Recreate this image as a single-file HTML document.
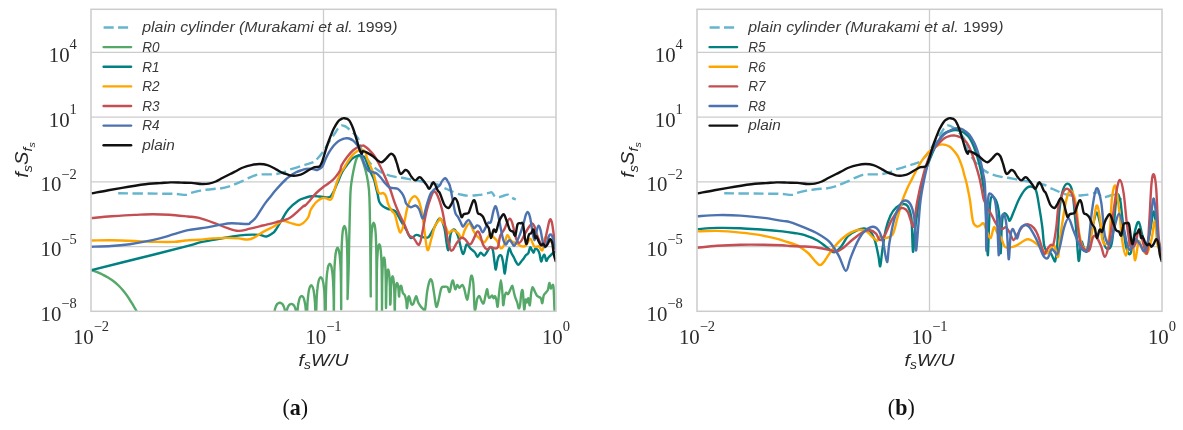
<!DOCTYPE html>
<html><head><meta charset="utf-8"><style>
html,body{margin:0;padding:0;background:#fff;}
svg{display:block;will-change:transform;}
.lg{font-family:"Liberation Sans",sans-serif;font-style:italic;font-size:14.4px;fill:#3a3a3a;}
.tk{font-family:"Liberation Serif",serif;font-size:20.8px;fill:#2c2c2c;}
.tk .sup{font-size:14.5px;}
.al{font-family:"Liberation Sans",sans-serif;font-style:italic;font-size:16.8px;fill:#262626;}
.al .sub{font-size:12px;}
.al .sub2{font-size:9px;}
.cap{font-family:"Liberation Serif",serif;font-size:22px;fill:#111;}
</style></head><body>
<svg width="1183" height="430" viewBox="0 0 1183 430">
<rect width="1183" height="430" fill="#fff"/>
<defs><clipPath id="da0"><rect x="117.99" y="0" width="186.20" height="430"/></clipPath><clipPath id="da1"><rect x="304.19" y="0" width="82.20" height="430"/></clipPath><clipPath id="da2"><rect x="386.39" y="0" width="57.70" height="430"/></clipPath><clipPath id="da3"><rect x="444.09" y="0" width="42.50" height="430"/></clipPath><clipPath id="da4"><rect x="486.59" y="0" width="113.40" height="430"/></clipPath><clipPath id="db0"><rect x="723.99" y="0" width="186.20" height="430"/></clipPath><clipPath id="db1"><rect x="910.19" y="0" width="82.20" height="430"/></clipPath><clipPath id="db2"><rect x="992.39" y="0" width="57.70" height="430"/></clipPath><clipPath id="db3"><rect x="1050.09" y="0" width="42.50" height="430"/></clipPath><clipPath id="db4"><rect x="1092.59" y="0" width="113.40" height="430"/></clipPath><clipPath id="c0"><rect x="91.0" y="9.3" width="465.0" height="302.0"/></clipPath><clipPath id="c1"><rect x="697.0" y="9.3" width="465.0" height="302.0"/></clipPath></defs>
<g stroke="#cccccc" stroke-width="1.3"><line x1="91.0" y1="52.4" x2="556.0" y2="52.4"/><line x1="91.0" y1="117.2" x2="556.0" y2="117.2"/><line x1="91.0" y1="181.9" x2="556.0" y2="181.9"/><line x1="91.0" y1="246.6" x2="556.0" y2="246.6"/><line x1="323.5" y1="9.3" x2="323.5" y2="311.3"/></g>
<g stroke="#cccccc" stroke-width="1.3"><line x1="697.0" y1="52.4" x2="1162.0" y2="52.4"/><line x1="697.0" y1="117.2" x2="1162.0" y2="117.2"/><line x1="697.0" y1="181.9" x2="1162.0" y2="181.9"/><line x1="697.0" y1="246.6" x2="1162.0" y2="246.6"/><line x1="929.5" y1="9.3" x2="929.5" y2="311.3"/></g>
<g clip-path="url(#c0)"><path d="M118.2,193.3 C125.5,193.4 153.2,193.6 162.1,193.7 C171.0,193.8 169.5,193.6 171.9,193.7 C174.3,193.8 174.2,193.8 176.7,194.0 C179.2,194.2 184.4,195.1 186.8,194.9 C189.2,194.7 188.7,193.7 191.0,193.0 C193.3,192.3 198.0,191.1 200.4,190.6 C202.8,190.1 202.9,190.2 205.3,189.9 C207.8,189.6 212.7,189.0 215.1,188.8 C217.5,188.6 217.6,188.9 220.0,188.5 C222.4,188.1 226.9,187.1 229.4,186.4 C231.9,185.7 232.8,185.1 235.0,184.2 C237.2,183.3 240.6,181.8 242.7,180.9 C244.8,180.0 245.3,179.5 247.6,178.5 C249.9,177.5 254.3,175.5 256.6,174.8 C258.9,174.1 259.0,174.5 261.4,174.4 C263.8,174.3 268.4,174.5 270.8,174.4 C273.2,174.3 273.9,174.3 276.1,174.0 C278.3,173.7 281.5,173.2 283.8,172.4 C286.1,171.7 287.3,170.4 289.9,169.5 C292.5,168.6 296.9,167.4 299.3,166.7 C301.7,166.0 301.8,165.8 304.2,165.1 C306.6,164.3 311.3,163.2 313.5,162.2 C315.7,161.1 315.7,160.5 317.3,158.8 C318.9,157.1 321.5,153.9 323.0,151.9 C324.5,149.9 325.0,148.8 326.2,146.8 C327.4,144.8 329.0,142.0 330.4,139.8 C331.8,137.6 333.3,135.6 334.6,133.7 C335.9,131.8 336.9,129.9 338.0,128.5 C339.1,127.1 340.3,125.9 341.4,125.5 C342.5,125.1 343.4,125.6 344.5,126.0 C345.6,126.4 346.5,127.1 347.7,128.0 C348.9,128.9 350.4,130.2 351.8,131.5 C353.2,132.8 354.8,134.3 356.0,135.7 C357.2,137.1 357.9,137.6 358.8,140.0 C359.7,142.4 360.5,147.2 361.6,150.0 C362.7,152.8 363.8,154.2 365.3,156.5 C366.9,158.8 368.7,161.7 370.9,164.0 C373.1,166.3 375.8,168.7 378.4,170.5 C381.0,172.3 383.3,173.5 386.4,174.6 C389.5,175.7 394.4,176.7 396.9,177.2 C399.4,177.7 399.1,177.3 401.6,177.7 C404.1,178.1 408.6,179.2 412.0,179.8 C415.4,180.4 418.6,180.9 422.0,181.5 C425.4,182.1 429.6,182.9 432.4,183.5 C435.2,184.1 436.8,184.3 438.7,185.0 C440.6,185.7 442.5,187.1 444.1,187.9 C445.7,188.7 447.1,189.2 448.5,189.8 C449.9,190.4 450.8,190.9 452.3,191.5 C453.8,192.1 455.9,193.0 457.5,193.6 C459.1,194.2 460.4,194.5 462.0,194.8 C463.6,195.1 465.3,195.5 467.2,195.6 C469.1,195.7 471.7,195.6 473.5,195.5 C475.3,195.4 476.4,195.2 477.8,195.1 C479.2,194.9 480.2,194.9 481.7,194.6 C483.2,194.3 485.2,193.8 486.6,193.5 C488.0,193.2 489.1,192.8 490.0,192.6 C490.9,192.4 491.3,191.9 492.1,192.6 C492.9,193.2 493.9,195.7 494.9,196.5 C495.9,197.3 496.8,197.5 498.1,197.4 C499.5,197.3 501.4,196.5 503.0,196.0 C504.6,195.5 506.4,194.4 507.8,194.6 C509.2,194.8 510.0,196.6 511.3,197.4 C512.6,198.2 515.0,199.2 515.8,199.5" fill="none" stroke="#64b5cd" stroke-width="2.40" stroke-dasharray="10.084,4.639" stroke-dashoffset="0.200" clip-path="url(#da0)"/><path d="M118.2,193.3 C125.5,193.4 153.2,193.6 162.1,193.7 C171.0,193.8 169.5,193.6 171.9,193.7 C174.3,193.8 174.2,193.8 176.7,194.0 C179.2,194.2 184.4,195.1 186.8,194.9 C189.2,194.7 188.7,193.7 191.0,193.0 C193.3,192.3 198.0,191.1 200.4,190.6 C202.8,190.1 202.9,190.2 205.3,189.9 C207.8,189.6 212.7,189.0 215.1,188.8 C217.5,188.6 217.6,188.9 220.0,188.5 C222.4,188.1 226.9,187.1 229.4,186.4 C231.9,185.7 232.8,185.1 235.0,184.2 C237.2,183.3 240.6,181.8 242.7,180.9 C244.8,180.0 245.3,179.5 247.6,178.5 C249.9,177.5 254.3,175.5 256.6,174.8 C258.9,174.1 259.0,174.5 261.4,174.4 C263.8,174.3 268.4,174.5 270.8,174.4 C273.2,174.3 273.9,174.3 276.1,174.0 C278.3,173.7 281.5,173.2 283.8,172.4 C286.1,171.7 287.3,170.4 289.9,169.5 C292.5,168.6 296.9,167.4 299.3,166.7 C301.7,166.0 301.8,165.8 304.2,165.1 C306.6,164.3 311.3,163.2 313.5,162.2 C315.7,161.1 315.7,160.5 317.3,158.8 C318.9,157.1 321.5,153.9 323.0,151.9 C324.5,149.9 325.0,148.8 326.2,146.8 C327.4,144.8 329.0,142.0 330.4,139.8 C331.8,137.6 333.3,135.6 334.6,133.7 C335.9,131.8 336.9,129.9 338.0,128.5 C339.1,127.1 340.3,125.9 341.4,125.5 C342.5,125.1 343.4,125.6 344.5,126.0 C345.6,126.4 346.5,127.1 347.7,128.0 C348.9,128.9 350.4,130.2 351.8,131.5 C353.2,132.8 354.8,134.3 356.0,135.7 C357.2,137.1 357.9,137.6 358.8,140.0 C359.7,142.4 360.5,147.2 361.6,150.0 C362.7,152.8 363.8,154.2 365.3,156.5 C366.9,158.8 368.7,161.7 370.9,164.0 C373.1,166.3 375.8,168.7 378.4,170.5 C381.0,172.3 383.3,173.5 386.4,174.6 C389.5,175.7 394.4,176.7 396.9,177.2 C399.4,177.7 399.1,177.3 401.6,177.7 C404.1,178.1 408.6,179.2 412.0,179.8 C415.4,180.4 418.6,180.9 422.0,181.5 C425.4,182.1 429.6,182.9 432.4,183.5 C435.2,184.1 436.8,184.3 438.7,185.0 C440.6,185.7 442.5,187.1 444.1,187.9 C445.7,188.7 447.1,189.2 448.5,189.8 C449.9,190.4 450.8,190.9 452.3,191.5 C453.8,192.1 455.9,193.0 457.5,193.6 C459.1,194.2 460.4,194.5 462.0,194.8 C463.6,195.1 465.3,195.5 467.2,195.6 C469.1,195.7 471.7,195.6 473.5,195.5 C475.3,195.4 476.4,195.2 477.8,195.1 C479.2,194.9 480.2,194.9 481.7,194.6 C483.2,194.3 485.2,193.8 486.6,193.5 C488.0,193.2 489.1,192.8 490.0,192.6 C490.9,192.4 491.3,191.9 492.1,192.6 C492.9,193.2 493.9,195.7 494.9,196.5 C495.9,197.3 496.8,197.5 498.1,197.4 C499.5,197.3 501.4,196.5 503.0,196.0 C504.6,195.5 506.4,194.4 507.8,194.6 C509.2,194.8 510.0,196.6 511.3,197.4 C512.6,198.2 515.0,199.2 515.8,199.5" fill="none" stroke="#64b5cd" stroke-width="2.40" stroke-dasharray="9.588,4.411" stroke-dashoffset="4.798" clip-path="url(#da1)"/><path d="M118.2,193.3 C125.5,193.4 153.2,193.6 162.1,193.7 C171.0,193.8 169.5,193.6 171.9,193.7 C174.3,193.8 174.2,193.8 176.7,194.0 C179.2,194.2 184.4,195.1 186.8,194.9 C189.2,194.7 188.7,193.7 191.0,193.0 C193.3,192.3 198.0,191.1 200.4,190.6 C202.8,190.1 202.9,190.2 205.3,189.9 C207.8,189.6 212.7,189.0 215.1,188.8 C217.5,188.6 217.6,188.9 220.0,188.5 C222.4,188.1 226.9,187.1 229.4,186.4 C231.9,185.7 232.8,185.1 235.0,184.2 C237.2,183.3 240.6,181.8 242.7,180.9 C244.8,180.0 245.3,179.5 247.6,178.5 C249.9,177.5 254.3,175.5 256.6,174.8 C258.9,174.1 259.0,174.5 261.4,174.4 C263.8,174.3 268.4,174.5 270.8,174.4 C273.2,174.3 273.9,174.3 276.1,174.0 C278.3,173.7 281.5,173.2 283.8,172.4 C286.1,171.7 287.3,170.4 289.9,169.5 C292.5,168.6 296.9,167.4 299.3,166.7 C301.7,166.0 301.8,165.8 304.2,165.1 C306.6,164.3 311.3,163.2 313.5,162.2 C315.7,161.1 315.7,160.5 317.3,158.8 C318.9,157.1 321.5,153.9 323.0,151.9 C324.5,149.9 325.0,148.8 326.2,146.8 C327.4,144.8 329.0,142.0 330.4,139.8 C331.8,137.6 333.3,135.6 334.6,133.7 C335.9,131.8 336.9,129.9 338.0,128.5 C339.1,127.1 340.3,125.9 341.4,125.5 C342.5,125.1 343.4,125.6 344.5,126.0 C345.6,126.4 346.5,127.1 347.7,128.0 C348.9,128.9 350.4,130.2 351.8,131.5 C353.2,132.8 354.8,134.3 356.0,135.7 C357.2,137.1 357.9,137.6 358.8,140.0 C359.7,142.4 360.5,147.2 361.6,150.0 C362.7,152.8 363.8,154.2 365.3,156.5 C366.9,158.8 368.7,161.7 370.9,164.0 C373.1,166.3 375.8,168.7 378.4,170.5 C381.0,172.3 383.3,173.5 386.4,174.6 C389.5,175.7 394.4,176.7 396.9,177.2 C399.4,177.7 399.1,177.3 401.6,177.7 C404.1,178.1 408.6,179.2 412.0,179.8 C415.4,180.4 418.6,180.9 422.0,181.5 C425.4,182.1 429.6,182.9 432.4,183.5 C435.2,184.1 436.8,184.3 438.7,185.0 C440.6,185.7 442.5,187.1 444.1,187.9 C445.7,188.7 447.1,189.2 448.5,189.8 C449.9,190.4 450.8,190.9 452.3,191.5 C453.8,192.1 455.9,193.0 457.5,193.6 C459.1,194.2 460.4,194.5 462.0,194.8 C463.6,195.1 465.3,195.5 467.2,195.6 C469.1,195.7 471.7,195.6 473.5,195.5 C475.3,195.4 476.4,195.2 477.8,195.1 C479.2,194.9 480.2,194.9 481.7,194.6 C483.2,194.3 485.2,193.8 486.6,193.5 C488.0,193.2 489.1,192.8 490.0,192.6 C490.9,192.4 491.3,191.9 492.1,192.6 C492.9,193.2 493.9,195.7 494.9,196.5 C495.9,197.3 496.8,197.5 498.1,197.4 C499.5,197.3 501.4,196.5 503.0,196.0 C504.6,195.5 506.4,194.4 507.8,194.6 C509.2,194.8 510.0,196.6 511.3,197.4 C512.6,198.2 515.0,199.2 515.8,199.5" fill="none" stroke="#64b5cd" stroke-width="2.40" stroke-dasharray="10.192,4.688" stroke-dashoffset="10.197" clip-path="url(#da2)"/><path d="M118.2,193.3 C125.5,193.4 153.2,193.6 162.1,193.7 C171.0,193.8 169.5,193.6 171.9,193.7 C174.3,193.8 174.2,193.8 176.7,194.0 C179.2,194.2 184.4,195.1 186.8,194.9 C189.2,194.7 188.7,193.7 191.0,193.0 C193.3,192.3 198.0,191.1 200.4,190.6 C202.8,190.1 202.9,190.2 205.3,189.9 C207.8,189.6 212.7,189.0 215.1,188.8 C217.5,188.6 217.6,188.9 220.0,188.5 C222.4,188.1 226.9,187.1 229.4,186.4 C231.9,185.7 232.8,185.1 235.0,184.2 C237.2,183.3 240.6,181.8 242.7,180.9 C244.8,180.0 245.3,179.5 247.6,178.5 C249.9,177.5 254.3,175.5 256.6,174.8 C258.9,174.1 259.0,174.5 261.4,174.4 C263.8,174.3 268.4,174.5 270.8,174.4 C273.2,174.3 273.9,174.3 276.1,174.0 C278.3,173.7 281.5,173.2 283.8,172.4 C286.1,171.7 287.3,170.4 289.9,169.5 C292.5,168.6 296.9,167.4 299.3,166.7 C301.7,166.0 301.8,165.8 304.2,165.1 C306.6,164.3 311.3,163.2 313.5,162.2 C315.7,161.1 315.7,160.5 317.3,158.8 C318.9,157.1 321.5,153.9 323.0,151.9 C324.5,149.9 325.0,148.8 326.2,146.8 C327.4,144.8 329.0,142.0 330.4,139.8 C331.8,137.6 333.3,135.6 334.6,133.7 C335.9,131.8 336.9,129.9 338.0,128.5 C339.1,127.1 340.3,125.9 341.4,125.5 C342.5,125.1 343.4,125.6 344.5,126.0 C345.6,126.4 346.5,127.1 347.7,128.0 C348.9,128.9 350.4,130.2 351.8,131.5 C353.2,132.8 354.8,134.3 356.0,135.7 C357.2,137.1 357.9,137.6 358.8,140.0 C359.7,142.4 360.5,147.2 361.6,150.0 C362.7,152.8 363.8,154.2 365.3,156.5 C366.9,158.8 368.7,161.7 370.9,164.0 C373.1,166.3 375.8,168.7 378.4,170.5 C381.0,172.3 383.3,173.5 386.4,174.6 C389.5,175.7 394.4,176.7 396.9,177.2 C399.4,177.7 399.1,177.3 401.6,177.7 C404.1,178.1 408.6,179.2 412.0,179.8 C415.4,180.4 418.6,180.9 422.0,181.5 C425.4,182.1 429.6,182.9 432.4,183.5 C435.2,184.1 436.8,184.3 438.7,185.0 C440.6,185.7 442.5,187.1 444.1,187.9 C445.7,188.7 447.1,189.2 448.5,189.8 C449.9,190.4 450.8,190.9 452.3,191.5 C453.8,192.1 455.9,193.0 457.5,193.6 C459.1,194.2 460.4,194.5 462.0,194.8 C463.6,195.1 465.3,195.5 467.2,195.6 C469.1,195.7 471.7,195.6 473.5,195.5 C475.3,195.4 476.4,195.2 477.8,195.1 C479.2,194.9 480.2,194.9 481.7,194.6 C483.2,194.3 485.2,193.8 486.6,193.5 C488.0,193.2 489.1,192.8 490.0,192.6 C490.9,192.4 491.3,191.9 492.1,192.6 C492.9,193.2 493.9,195.7 494.9,196.5 C495.9,197.3 496.8,197.5 498.1,197.4 C499.5,197.3 501.4,196.5 503.0,196.0 C504.6,195.5 506.4,194.4 507.8,194.6 C509.2,194.8 510.0,196.6 511.3,197.4 C512.6,198.2 515.0,199.2 515.8,199.5" fill="none" stroke="#64b5cd" stroke-width="2.40" stroke-dasharray="10.063,4.629" stroke-dashoffset="5.270" clip-path="url(#da3)"/><path d="M118.2,193.3 C125.5,193.4 153.2,193.6 162.1,193.7 C171.0,193.8 169.5,193.6 171.9,193.7 C174.3,193.8 174.2,193.8 176.7,194.0 C179.2,194.2 184.4,195.1 186.8,194.9 C189.2,194.7 188.7,193.7 191.0,193.0 C193.3,192.3 198.0,191.1 200.4,190.6 C202.8,190.1 202.9,190.2 205.3,189.9 C207.8,189.6 212.7,189.0 215.1,188.8 C217.5,188.6 217.6,188.9 220.0,188.5 C222.4,188.1 226.9,187.1 229.4,186.4 C231.9,185.7 232.8,185.1 235.0,184.2 C237.2,183.3 240.6,181.8 242.7,180.9 C244.8,180.0 245.3,179.5 247.6,178.5 C249.9,177.5 254.3,175.5 256.6,174.8 C258.9,174.1 259.0,174.5 261.4,174.4 C263.8,174.3 268.4,174.5 270.8,174.4 C273.2,174.3 273.9,174.3 276.1,174.0 C278.3,173.7 281.5,173.2 283.8,172.4 C286.1,171.7 287.3,170.4 289.9,169.5 C292.5,168.6 296.9,167.4 299.3,166.7 C301.7,166.0 301.8,165.8 304.2,165.1 C306.6,164.3 311.3,163.2 313.5,162.2 C315.7,161.1 315.7,160.5 317.3,158.8 C318.9,157.1 321.5,153.9 323.0,151.9 C324.5,149.9 325.0,148.8 326.2,146.8 C327.4,144.8 329.0,142.0 330.4,139.8 C331.8,137.6 333.3,135.6 334.6,133.7 C335.9,131.8 336.9,129.9 338.0,128.5 C339.1,127.1 340.3,125.9 341.4,125.5 C342.5,125.1 343.4,125.6 344.5,126.0 C345.6,126.4 346.5,127.1 347.7,128.0 C348.9,128.9 350.4,130.2 351.8,131.5 C353.2,132.8 354.8,134.3 356.0,135.7 C357.2,137.1 357.9,137.6 358.8,140.0 C359.7,142.4 360.5,147.2 361.6,150.0 C362.7,152.8 363.8,154.2 365.3,156.5 C366.9,158.8 368.7,161.7 370.9,164.0 C373.1,166.3 375.8,168.7 378.4,170.5 C381.0,172.3 383.3,173.5 386.4,174.6 C389.5,175.7 394.4,176.7 396.9,177.2 C399.4,177.7 399.1,177.3 401.6,177.7 C404.1,178.1 408.6,179.2 412.0,179.8 C415.4,180.4 418.6,180.9 422.0,181.5 C425.4,182.1 429.6,182.9 432.4,183.5 C435.2,184.1 436.8,184.3 438.7,185.0 C440.6,185.7 442.5,187.1 444.1,187.9 C445.7,188.7 447.1,189.2 448.5,189.8 C449.9,190.4 450.8,190.9 452.3,191.5 C453.8,192.1 455.9,193.0 457.5,193.6 C459.1,194.2 460.4,194.5 462.0,194.8 C463.6,195.1 465.3,195.5 467.2,195.6 C469.1,195.7 471.7,195.6 473.5,195.5 C475.3,195.4 476.4,195.2 477.8,195.1 C479.2,194.9 480.2,194.9 481.7,194.6 C483.2,194.3 485.2,193.8 486.6,193.5 C488.0,193.2 489.1,192.8 490.0,192.6 C490.9,192.4 491.3,191.9 492.1,192.6 C492.9,193.2 493.9,195.7 494.9,196.5 C495.9,197.3 496.8,197.5 498.1,197.4 C499.5,197.3 501.4,196.5 503.0,196.0 C504.6,195.5 506.4,194.4 507.8,194.6 C509.2,194.8 510.0,196.6 511.3,197.4 C512.6,198.2 515.0,199.2 515.8,199.5" fill="none" stroke="#64b5cd" stroke-width="2.40" stroke-dasharray="10.000,4.600" stroke-dashoffset="2.623" clip-path="url(#da4)"/><path d="M91.5,270.1 C92.3,270.4 94.8,271.1 96.5,271.8 C98.2,272.5 100.1,273.3 102.0,274.3 C103.9,275.3 106.1,276.4 108.0,277.6 C109.9,278.8 111.8,280.0 113.6,281.3 C115.3,282.6 117.0,284.0 118.5,285.5 C120.0,287.0 121.6,288.7 122.9,290.3 C124.2,291.9 125.4,293.4 126.6,295.0 C127.8,296.6 128.8,298.2 129.9,300.0 C131.1,301.8 132.3,303.9 133.5,305.8 C134.7,307.7 135.6,309.4 136.8,311.5 C138.0,313.6 139.5,316.4 140.5,318.5 C141.5,320.6 142.6,323.1 143.0,324.0" fill="none" stroke="#55a868" stroke-width="2.40" stroke-linejoin="round"/><path d="M268.0,330.0 C268.9,330.0 272.7,330.3 273.7,330.0 C274.7,329.7 273.7,329.3 273.7,327.9 C273.8,326.5 273.8,323.5 273.8,321.6 C273.9,319.7 274.0,317.9 274.1,316.3 C274.2,314.8 274.3,313.5 274.4,312.4 C274.6,311.2 274.7,310.4 274.9,309.5 C275.1,308.6 275.4,307.7 275.7,306.9 C275.9,306.1 276.3,305.5 276.6,304.9 C277.0,304.3 277.3,303.8 277.8,303.5 C278.4,303.1 279.1,302.7 279.8,302.7 C280.5,302.7 281.2,303.1 281.8,303.5 C282.3,303.8 282.6,304.3 283.0,304.9 C283.3,305.5 283.7,306.1 283.9,306.9 C284.2,307.7 284.5,308.6 284.7,309.5 C284.9,310.4 285.0,311.2 285.2,312.4 C285.3,313.5 285.4,314.8 285.5,316.3 C285.6,317.9 285.7,319.7 285.8,321.6 C285.8,323.5 285.8,326.5 285.9,327.9 C285.9,329.3 285.9,330.2 285.9,330.0 C285.9,329.8 285.9,328.2 285.9,326.7 C286.0,325.2 286.0,322.7 286.0,321.0 C286.1,319.2 286.1,317.6 286.2,316.2 C286.3,314.8 286.4,313.7 286.6,312.6 C286.7,311.6 286.8,310.8 287.0,310.0 C287.2,309.2 287.4,308.4 287.6,307.7 C287.9,307.0 288.2,306.4 288.5,305.9 C288.8,305.4 289.1,304.9 289.6,304.6 C290.1,304.3 290.8,303.9 291.4,303.9 C291.9,303.9 292.6,304.3 293.1,304.6 C293.6,304.9 293.9,305.4 294.2,305.9 C294.5,306.4 294.8,307.0 295.1,307.7 C295.3,308.4 295.5,309.2 295.7,310.0 C295.9,310.8 296.0,311.6 296.1,312.6 C296.3,313.7 296.4,314.8 296.5,316.2 C296.6,317.6 296.6,319.2 296.7,321.0 C296.7,322.7 296.7,325.2 296.8,326.7 C296.8,328.2 296.8,329.5 296.8,330.0 C296.8,330.5 296.8,330.0 296.8,330.0 C296.9,330.0 296.9,331.6 296.9,330.0 C297.0,328.4 297.0,323.5 297.1,320.7 C297.2,317.9 297.3,315.6 297.4,313.5 C297.5,311.4 297.6,309.9 297.8,308.2 C297.9,306.6 298.1,305.0 298.4,303.6 C298.6,302.2 298.9,300.9 299.2,299.9 C299.4,298.8 299.7,297.9 300.1,297.3 C300.6,296.6 301.2,295.9 301.7,295.9 C302.2,295.9 302.8,296.6 303.3,297.3 C303.7,297.9 304.0,298.8 304.2,299.9 C304.5,300.9 304.8,302.2 305.0,303.6 C305.3,305.0 305.5,306.6 305.6,308.2 C305.8,309.9 305.9,311.4 306.0,313.5 C306.1,315.6 306.2,317.9 306.3,320.7 C306.4,323.5 306.4,328.4 306.5,330.0 C306.5,331.6 306.5,330.0 306.6,330.0 C306.6,330.0 306.6,330.0 306.6,330.0 C306.6,330.0 306.6,330.0 306.6,330.0 C306.7,330.0 306.7,331.5 306.7,330.0 C306.8,328.5 306.8,324.3 306.9,321.0 C307.0,317.8 307.0,313.6 307.2,310.6 C307.3,307.5 307.4,305.3 307.5,303.0 C307.7,300.6 307.9,298.2 308.1,296.2 C308.3,294.2 308.6,292.4 308.8,290.9 C309.1,289.3 309.4,288.1 309.8,287.1 C310.2,286.1 310.8,285.1 311.2,285.1 C311.7,285.1 312.3,286.1 312.7,287.1 C313.1,288.1 313.4,289.3 313.7,290.9 C313.9,292.4 314.2,294.2 314.4,296.2 C314.6,298.2 314.8,300.6 315.0,303.0 C315.1,305.3 315.2,307.5 315.3,310.6 C315.5,313.6 315.5,317.8 315.6,321.0 C315.7,324.3 315.7,328.5 315.8,330.0 C315.8,331.5 315.8,330.0 315.9,330.0 C315.9,330.0 315.9,330.0 315.9,330.0 C315.9,330.0 315.9,330.5 315.9,330.0 C316.0,329.5 316.0,329.8 316.0,326.9 C316.1,324.1 316.1,317.1 316.2,313.0 C316.3,309.0 316.4,305.6 316.5,302.6 C316.6,299.5 316.7,297.3 316.9,295.0 C317.0,292.6 317.2,290.2 317.5,288.2 C317.7,286.2 317.9,284.4 318.2,282.9 C318.5,281.3 318.8,280.1 319.2,279.1 C319.6,278.1 320.2,277.1 320.8,277.1 C321.3,277.1 321.9,278.1 322.3,279.1 C322.7,280.1 323.0,281.3 323.3,282.9 C323.6,284.4 323.8,286.2 324.0,288.2 C324.3,290.2 324.5,292.6 324.6,295.0 C324.8,297.3 324.9,299.5 325.0,302.6 C325.1,305.6 325.2,309.0 325.3,313.0 C325.4,317.1 325.4,324.1 325.5,326.9 C325.5,329.8 325.5,329.5 325.6,330.0 C325.6,330.5 325.6,330.0 325.6,330.0 C325.6,330.0 325.6,332.7 325.6,330.0 C325.6,327.3 325.7,318.6 325.7,313.5 C325.7,308.5 325.8,303.7 325.8,299.6 C325.9,295.6 326.0,292.2 326.1,289.2 C326.2,286.1 326.3,283.9 326.4,281.6 C326.6,279.2 326.7,276.8 326.9,274.8 C327.1,272.8 327.3,271.0 327.6,269.5 C327.8,267.9 328.1,266.7 328.4,265.7 C328.8,264.7 329.3,263.7 329.8,263.7 C330.2,263.7 330.7,264.7 331.1,265.7 C331.4,266.7 331.7,267.9 331.9,269.5 C332.2,271.0 332.4,272.8 332.6,274.8 C332.8,276.8 332.9,279.2 333.1,281.6 C333.2,283.9 333.3,286.1 333.4,289.2 C333.5,292.2 333.6,295.6 333.7,299.6 C333.7,303.7 333.8,308.5 333.8,313.5 C333.8,318.6 333.9,327.3 333.9,330.0 C333.9,332.7 333.9,332.6 333.9,330.0 C333.9,327.4 333.9,319.7 333.9,314.3 C333.9,308.9 334.0,302.7 334.0,297.6 C334.0,292.5 334.1,287.8 334.1,283.7 C334.2,279.7 334.3,276.3 334.3,273.3 C334.4,270.2 334.5,268.0 334.6,265.7 C334.8,263.3 334.9,260.9 335.1,258.9 C335.2,256.9 335.4,255.1 335.7,253.6 C335.9,252.0 336.1,250.8 336.4,249.8 C336.7,248.8 337.2,247.8 337.5,247.8 C337.9,247.8 338.4,248.8 338.7,249.8 C339.0,250.8 339.2,252.0 339.4,253.6 C339.7,255.1 339.9,256.9 340.0,258.9 C340.2,260.9 340.3,263.3 340.5,265.7 C340.6,268.0 340.7,270.2 340.8,273.3 C340.8,276.3 340.9,279.7 341.0,283.7 C341.0,287.8 341.1,293.7 341.1,297.6 C341.1,301.6 341.2,305.9 341.2,307.6 C341.2,309.3 341.2,310.1 341.2,307.6 C341.2,305.1 341.2,297.7 341.2,292.4 C341.2,287.1 341.2,280.8 341.3,275.7 C341.3,270.6 341.3,265.9 341.4,261.8 C341.4,257.8 341.5,254.4 341.6,251.4 C341.7,248.3 341.7,246.1 341.8,243.8 C341.9,241.4 342.1,239.0 342.2,237.0 C342.4,235.0 342.5,233.2 342.7,231.7 C342.9,230.1 343.1,228.9 343.4,227.9 C343.7,226.9 344.1,225.9 344.4,225.9 C344.7,225.9 345.1,226.9 345.4,227.9 C345.7,228.9 345.9,230.1 346.1,231.7 C346.3,233.2 346.4,235.0 346.6,237.0 C346.7,239.0 346.9,241.4 347.0,243.8 C347.1,246.1 347.1,248.3 347.2,251.4 C347.3,254.4 347.4,257.8 347.4,261.8 C347.5,265.9 347.5,270.6 347.5,275.7 C347.6,280.8 347.6,288.8 347.6,292.4 C347.6,296.1 347.4,301.5 347.6,297.8 C347.8,294.1 348.3,279.6 348.6,270.0 C348.9,260.4 349.0,249.2 349.2,240.0 C349.4,230.8 349.6,223.0 349.8,215.0 C350.0,207.0 350.2,197.5 350.5,192.0 C350.8,186.5 351.0,185.4 351.5,182.0 C352.0,178.6 352.6,175.0 353.3,171.4 C354.1,167.8 355.1,162.8 356.0,160.2 C356.9,157.6 357.9,155.9 358.8,155.6 C359.7,155.3 360.5,156.1 361.6,158.4 C362.7,160.7 364.2,165.5 365.3,169.5 C366.4,173.5 367.4,178.0 368.1,182.6 C368.8,187.2 369.1,189.1 369.4,197.0 C369.7,204.9 369.9,214.2 370.1,230.0 C370.3,245.8 370.6,282.1 370.7,292.0 C370.8,301.9 370.7,292.5 370.7,289.2 C370.7,286.0 370.7,277.6 370.8,272.5 C370.8,267.4 370.8,262.7 370.9,258.6 C370.9,254.6 371.0,251.2 371.1,248.2 C371.1,245.1 371.2,242.9 371.3,240.6 C371.4,238.2 371.5,235.8 371.6,233.8 C371.8,231.8 371.9,230.0 372.1,228.5 C372.3,226.9 372.5,225.7 372.7,224.7 C373.0,223.7 373.3,222.7 373.6,222.7 C374.0,222.7 374.3,223.7 374.6,224.7 C374.8,225.7 375.0,226.9 375.2,228.5 C375.4,230.0 375.5,231.8 375.7,233.8 C375.8,235.8 375.9,238.2 376.0,240.6 C376.1,242.9 376.2,245.1 376.2,248.2 C376.3,251.2 376.4,254.6 376.4,258.6 C376.5,262.7 376.5,267.4 376.5,272.5 C376.6,277.6 376.6,279.7 376.6,289.2 C376.6,298.8 376.6,326.4 376.6,330.0 C376.6,333.6 376.6,316.6 376.6,310.6 C376.6,304.6 376.6,299.0 376.7,293.9 C376.7,288.8 376.7,284.1 376.8,280.0 C376.8,276.0 376.9,272.6 376.9,269.6 C377.0,266.5 377.1,264.3 377.1,262.0 C377.2,259.6 377.3,257.2 377.5,255.2 C377.6,253.2 377.7,251.4 377.9,249.9 C378.1,248.3 378.2,247.1 378.4,246.1 C378.7,245.1 379.0,244.1 379.3,244.1 C379.6,244.1 379.9,245.1 380.2,246.1 C380.4,247.1 380.5,248.3 380.7,249.9 C380.9,251.4 381.0,253.2 381.1,255.2 C381.3,257.2 381.4,259.6 381.5,262.0 C381.5,264.3 381.6,266.5 381.7,269.6 C381.7,272.6 381.8,276.0 381.8,280.0 C381.9,284.1 381.9,288.8 381.9,293.9 C382.0,299.0 382.0,304.6 382.0,310.6 C382.0,316.6 382.0,327.8 382.0,330.0 C382.0,332.2 382.0,327.8 382.0,324.0 C382.0,320.3 382.0,312.4 382.0,307.3 C382.1,302.2 382.1,297.5 382.1,293.4 C382.2,289.4 382.2,286.0 382.2,283.0 C382.3,279.9 382.3,277.7 382.4,275.4 C382.5,273.0 382.5,270.6 382.6,268.6 C382.7,266.6 382.8,264.8 383.0,263.3 C383.1,261.7 383.2,260.5 383.4,259.5 C383.5,258.5 383.8,257.5 384.0,257.5 C384.2,257.5 384.5,258.5 384.6,259.5 C384.8,260.5 384.9,261.7 385.0,263.3 C385.2,264.8 385.3,266.6 385.4,268.6 C385.5,270.6 385.5,273.0 385.6,275.4 C385.7,277.7 385.7,279.9 385.8,283.0 C385.8,286.0 385.8,289.4 385.9,293.4 C385.9,297.4 385.9,304.7 386.0,307.0 C386.0,309.3 386.0,307.0 386.0,307.0 C386.0,307.0 386.0,307.0 386.0,307.0 C386.0,307.0 386.0,307.0 386.0,307.0 C386.0,307.0 386.0,307.3 386.1,307.0 C386.1,306.7 386.1,307.4 386.1,305.4 C386.2,303.4 386.2,298.0 386.3,295.0 C386.3,291.9 386.4,289.7 386.4,287.4 C386.5,285.0 386.6,282.6 386.7,280.6 C386.8,278.6 386.9,276.8 387.0,275.3 C387.2,273.7 387.3,272.5 387.5,271.5 C387.6,270.5 387.9,269.5 388.1,269.5 C388.4,269.5 388.7,270.5 388.8,271.5 C389.0,272.5 389.1,273.7 389.3,275.3 C389.4,276.8 389.5,278.6 389.6,280.6 C389.7,282.6 389.8,285.0 389.9,287.4 C389.9,289.7 390.0,292.2 390.0,295.0 C390.1,297.7 390.1,302.5 390.2,304.0 C390.2,305.5 390.2,304.0 390.2,304.0 C390.3,304.0 390.3,304.0 390.3,304.0 C390.3,304.0 390.3,304.0 390.3,304.0 C390.3,304.0 390.3,304.0 390.3,304.0 C390.3,304.0 390.3,304.0 390.4,304.0 C390.4,304.0 390.4,304.4 390.4,304.0 C390.5,303.6 390.5,303.3 390.6,301.7 C390.6,300.0 390.7,296.4 390.8,294.1 C390.8,291.7 390.9,289.3 391.0,287.3 C391.1,285.3 391.2,283.5 391.4,282.0 C391.5,280.4 391.6,279.2 391.8,278.2 C392.0,277.2 392.3,276.2 392.6,276.2 C392.8,276.2 393.1,277.2 393.3,278.2 C393.5,279.2 393.6,280.4 393.7,282.0 C393.9,283.5 394.0,285.3 394.1,287.3 C394.2,289.3 394.3,291.7 394.4,294.1 C394.4,296.4 394.5,299.0 394.5,301.7 C394.6,304.3 394.6,308.6 394.7,310.0 C394.7,311.4 394.7,310.0 394.7,310.0 C394.8,310.0 394.8,310.0 394.8,310.0 C394.8,310.0 394.8,310.0 394.8,310.0 C394.8,310.0 394.8,310.0 394.8,310.0 C394.8,310.0 394.8,310.9 394.9,310.0 C394.9,309.1 394.9,306.4 394.9,304.4 C395.0,302.4 395.0,299.9 395.1,298.1 C395.1,296.3 395.2,295.0 395.2,293.6 C395.3,292.2 395.4,290.8 395.5,289.5 C395.6,288.3 395.7,287.3 395.9,286.3 C396.0,285.4 396.1,284.7 396.3,284.1 C396.5,283.5 396.8,282.9 397.0,282.9 C397.2,282.9 397.5,283.5 397.7,284.1 C397.9,284.7 398.0,285.4 398.1,286.3 C398.3,287.3 398.4,288.3 398.5,289.5 C398.6,290.8 398.7,292.5 398.8,293.6 C398.8,294.7 398.9,295.6 398.9,296.0 C399.0,296.4 399.0,296.0 399.1,296.0 C399.1,296.0 399.1,296.0 399.1,296.0 C399.2,296.0 399.2,296.0 399.2,296.0 C399.2,296.0 399.1,297.5 399.2,296.0 C399.3,294.5 399.6,288.7 400.0,287.1 C400.4,285.5 400.9,285.5 401.4,286.4 C401.9,287.3 402.2,291.2 402.8,292.7 C403.4,294.2 404.3,294.1 404.9,295.5 C405.5,296.9 405.9,299.0 406.3,301.1 C406.7,303.2 406.6,308.8 407.0,308.1 C407.4,307.4 407.9,298.5 408.4,296.9 C408.9,295.3 409.3,297.1 409.8,298.3 C410.3,299.5 410.6,303.0 411.2,303.9 C411.8,304.8 412.5,305.2 413.3,303.9 C414.1,302.6 415.3,296.4 416.1,296.2 C416.9,296.0 417.4,300.8 418.2,302.5 C419.0,304.2 420.1,305.6 420.9,306.7 C421.7,307.8 422.3,308.3 423.0,308.8 C423.7,309.3 424.4,312.4 425.1,309.5 C425.8,306.6 426.4,296.2 427.2,291.3 C428.0,286.4 429.2,281.7 430.0,280.1 C430.8,278.5 431.4,279.2 432.1,281.5 C432.8,283.8 433.5,289.9 434.2,294.1 C434.9,298.3 435.6,305.5 436.3,306.7 C437.0,307.9 437.6,304.1 438.4,301.1 C439.2,298.1 440.3,290.9 441.2,288.5 C442.1,286.1 442.9,287.0 444.0,286.8 C445.1,286.6 446.6,286.2 447.5,287.1 C448.4,288.0 448.9,292.7 449.6,292.0 C450.3,291.3 451.1,284.8 451.7,282.9 C452.3,281.0 452.5,279.8 453.1,280.8 C453.7,281.9 454.5,288.5 455.2,289.2 C455.9,289.9 456.6,285.2 457.3,285.0 C458.0,284.8 458.6,287.8 459.4,287.8 C460.2,287.8 461.4,284.9 462.2,285.0 C463.0,285.1 463.4,286.1 464.2,288.5 C465.0,290.9 466.2,299.5 467.0,299.7 C467.8,299.9 468.4,293.9 469.1,289.9 C469.8,285.9 470.5,277.1 471.2,275.9 C471.9,274.7 472.7,277.3 473.3,282.9 C473.9,288.5 474.1,306.5 474.7,309.5 C475.3,312.5 476.4,303.0 476.8,301.1 C477.2,299.2 476.9,299.1 477.4,298.3 C477.8,297.5 478.8,295.7 479.5,296.2 C480.2,296.7 480.9,299.9 481.6,301.1 C482.3,302.3 483.0,304.4 483.7,303.2 C484.4,302.0 485.2,296.4 485.8,294.1 C486.4,291.8 486.7,288.7 487.2,289.2 C487.7,289.7 488.1,295.5 488.6,296.9 C489.1,298.3 489.4,297.8 490.0,297.6 C490.6,297.4 491.5,295.4 492.1,295.5 C492.7,295.6 493.0,298.2 493.5,298.3 C494.0,298.4 494.4,296.0 494.9,296.2 C495.4,296.4 495.9,297.9 496.3,299.7 C496.8,301.4 497.2,307.6 497.6,306.7 C498.1,305.8 498.4,298.5 499.0,294.1 C499.6,289.7 500.3,280.1 500.9,280.1 C501.5,280.1 502.1,289.9 502.5,294.1 C502.9,298.3 502.8,304.8 503.2,305.3 C503.6,305.8 504.1,299.0 504.6,296.9 C505.1,294.8 505.4,293.2 506.0,292.7 C506.6,292.2 507.4,294.6 508.1,294.1 C508.8,293.6 509.5,291.3 510.2,289.9 C510.9,288.5 511.7,285.5 512.3,285.7 C512.9,285.9 513.2,289.4 513.7,291.3 C514.2,293.2 514.5,295.0 515.1,296.9 C515.7,298.8 516.6,300.6 517.2,302.5 C517.8,304.4 518.1,307.6 518.6,308.1 C519.1,308.6 519.5,307.9 520.0,305.3 C520.5,302.7 520.9,295.0 521.4,292.7 C521.9,290.4 522.3,288.5 522.8,291.3 C523.3,294.1 523.7,308.1 524.2,309.5 C524.7,310.9 525.1,300.9 525.6,299.7 C526.1,298.5 526.5,302.7 527.0,302.5 C527.5,302.3 527.9,297.8 528.4,298.3 C528.9,298.8 529.3,306.2 529.8,305.3 C530.3,304.4 530.7,295.7 531.2,292.7 C531.7,289.7 532.0,287.3 532.6,287.1 C533.2,286.9 534.0,289.9 534.7,291.3 C535.4,292.7 536.1,294.6 536.8,295.5 C537.5,296.4 538.1,296.4 538.8,296.9 C539.5,297.4 540.3,297.2 540.9,298.3 C541.5,299.4 541.8,303.7 542.3,303.2 C542.8,302.7 543.1,297.2 543.7,295.5 C544.3,293.8 545.1,293.6 545.8,292.7 C546.5,291.8 547.3,291.5 547.9,289.9 C548.5,288.3 548.8,283.1 549.3,282.9 C549.8,282.7 550.2,288.0 550.7,288.5 C551.2,289.0 551.6,285.9 552.1,285.7 C552.6,285.5 553.1,283.1 553.5,287.1 C553.9,291.1 554.2,304.4 554.5,309.5 C554.8,314.6 554.9,314.6 555.5,318.0 C556.1,321.4 557.6,328.0 558.0,330.0" fill="none" stroke="#55a868" stroke-width="2.40" stroke-linejoin="round"/><path d="M91.5,270.1 C99.6,268.1 123.9,262.0 140.0,258.0 C156.1,254.0 178.2,248.5 188.0,245.9 C197.8,243.3 194.5,243.7 199.0,242.6 C203.5,241.5 209.8,240.5 215.2,239.5 C220.6,238.5 226.4,237.5 231.5,236.7 C236.6,235.9 240.8,235.2 245.5,234.9 C250.2,234.6 255.9,234.6 259.4,234.9 C262.9,235.2 264.1,236.9 266.4,236.5 C268.7,236.1 271.9,233.7 273.4,232.6 C274.9,231.5 274.2,232.2 275.6,230.0 C277.0,227.8 279.8,223.1 281.9,219.7 C284.0,216.3 285.5,212.7 288.3,209.5 C291.1,206.3 295.8,202.4 298.6,200.5 C301.4,198.6 303.1,198.6 305.0,197.9 C306.9,197.2 308.1,196.8 309.7,196.5 C311.2,196.2 312.8,196.0 314.3,196.0 C315.9,196.0 317.4,196.3 319.0,196.5 C320.6,196.7 322.1,196.8 323.6,197.0 C325.2,197.2 327.1,197.6 328.3,197.4 C329.5,197.2 330.1,197.0 331.0,196.0 C331.9,195.0 332.9,193.2 333.8,191.4 C334.7,189.6 335.7,187.1 336.6,184.9 C337.5,182.7 338.5,180.6 339.4,178.4 C340.3,176.2 340.9,174.2 342.2,171.9 C343.5,169.6 345.5,166.7 347.3,164.4 C349.1,162.1 351.0,159.6 352.9,158.1 C354.8,156.6 357.0,155.7 358.5,155.3 C360.0,155.0 360.9,155.6 362.0,156.0 C363.1,156.4 364.0,156.3 365.0,158.0 C366.0,159.7 367.1,163.7 368.0,166.0 C368.9,168.3 369.7,170.3 370.5,172.0 C371.3,173.7 371.9,174.8 372.6,176.3 C373.3,177.8 374.0,179.4 374.5,181.0 C375.0,182.6 375.1,184.0 375.6,186.0 C376.1,188.0 376.8,190.5 377.4,193.0 C378.0,195.5 378.4,199.1 379.0,201.0 C379.6,202.9 380.2,203.6 381.0,204.5 C381.8,205.4 382.4,205.9 383.6,206.7 C384.8,207.4 386.4,208.3 388.3,209.0 C390.2,209.7 392.9,209.1 395.0,211.0 C397.1,212.9 398.7,217.2 400.6,220.3 C402.5,223.4 404.5,226.8 406.2,229.7 C407.9,232.6 409.1,237.1 410.8,238.0 C412.5,238.9 414.4,235.1 416.4,234.9 C418.4,234.8 420.9,236.7 422.9,237.1 C424.9,237.5 426.6,238.6 428.5,237.1 C430.4,235.6 432.2,230.9 434.1,227.8 C436.0,224.7 438.0,218.5 439.7,218.5 C441.4,218.5 442.9,222.5 444.3,227.8 C445.7,233.1 446.9,249.2 448.0,250.1 C449.1,251.0 449.7,236.8 450.8,233.4 C451.9,230.0 453.2,229.1 454.5,229.7 C455.8,230.3 456.9,233.1 458.3,237.1 C459.7,241.1 461.5,252.6 462.9,253.8 C464.3,255.0 465.4,245.4 466.6,244.5 C467.8,243.6 469.0,247.1 470.3,248.3 C471.6,249.6 473.7,251.0 474.6,252.0 C475.6,253.0 475.5,253.6 476.0,254.4 C476.5,255.2 476.9,257.0 477.7,256.7 C478.5,256.4 479.6,252.9 480.7,252.7 C481.8,252.5 483.0,255.9 484.1,255.6 C485.2,255.3 486.5,252.3 487.6,250.9 C488.7,249.5 489.6,247.0 490.5,246.9 C491.4,246.8 492.2,247.7 492.9,250.3 C493.6,252.9 494.1,259.4 494.6,262.6 C495.1,265.8 495.3,269.9 495.8,269.5 C496.3,269.1 496.9,262.5 497.5,260.2 C498.1,257.9 498.6,256.3 499.3,255.6 C500.0,254.9 500.9,254.8 501.6,256.2 C502.3,257.6 502.8,260.8 503.3,263.7 C503.8,266.6 504.3,274.0 504.8,273.6 C505.3,273.2 505.8,265.6 506.5,261.4 C507.2,257.2 508.3,249.9 509.1,248.6 C509.9,247.2 510.7,251.9 511.5,253.3 C512.3,254.8 513.0,255.9 513.8,257.3 C514.6,258.8 515.3,260.7 516.1,262.0 C516.9,263.3 517.5,265.0 518.4,264.9 C519.3,264.8 520.4,262.5 521.3,261.4 C522.2,260.3 522.9,259.6 523.7,258.5 C524.5,257.4 525.2,255.9 526.0,255.0 C526.8,254.1 527.6,254.6 528.3,253.3 C529.0,252.0 529.5,248.0 530.1,247.4 C530.7,246.8 531.2,248.9 531.8,249.8 C532.4,250.7 533.0,252.9 533.6,252.7 C534.2,252.5 534.6,249.1 535.3,248.6 C536.0,248.1 536.9,249.0 537.6,249.8 C538.3,250.6 538.8,251.4 539.4,253.3 C540.0,255.2 540.5,260.8 541.1,261.4 C541.7,262.0 542.3,257.8 542.9,256.7 C543.5,255.6 544.0,254.3 544.6,255.0 C545.2,255.7 545.7,260.3 546.3,260.8 C546.9,261.3 547.4,258.8 548.1,257.9 C548.8,257.0 549.5,256.5 550.4,255.6 C551.3,254.7 552.4,253.3 553.3,252.7 C554.2,252.1 555.5,252.1 556.0,252.0" fill="none" stroke="#008080" stroke-width="2.40" stroke-linejoin="round"/><path d="M91.5,240.5 C94.8,240.5 104.1,240.2 111.3,240.3 C118.5,240.4 126.8,240.7 134.5,241.0 C142.2,241.3 151.2,241.8 157.8,241.9 C164.4,242.1 169.0,242.2 174.0,241.9 C179.0,241.6 183.8,240.5 188.0,240.2 C192.2,239.8 194.8,240.1 199.0,239.8 C203.2,239.5 208.2,238.7 212.9,238.4 C217.6,238.1 222.6,237.9 226.9,237.9 C231.2,237.9 235.0,238.1 238.5,238.4 C242.0,238.7 245.1,239.7 247.8,239.5 C250.5,239.3 252.1,238.5 254.8,237.2 C257.5,235.8 261.0,233.2 264.1,231.4 C267.2,229.7 270.4,228.4 273.4,226.7 C276.4,225.0 279.4,221.7 282.0,221.0 C284.6,220.3 286.3,221.9 289.3,222.6 C292.3,223.2 296.7,225.7 299.8,224.9 C302.9,224.1 306.1,220.4 307.9,217.9 C309.7,215.4 309.5,212.2 310.6,210.0 C311.7,207.8 313.1,206.0 314.3,204.4 C315.5,202.8 316.8,201.7 318.0,200.7 C319.2,199.7 320.6,198.9 321.7,198.4 C322.8,197.9 323.6,197.8 324.5,197.9 C325.4,198.0 326.4,198.5 327.3,198.8 C328.2,199.1 329.3,200.0 330.1,199.8 C330.9,199.7 331.4,199.2 332.0,197.9 C332.6,196.7 333.2,194.3 333.8,192.3 C334.4,190.3 335.1,187.8 335.7,185.8 C336.3,183.8 336.8,182.2 337.6,180.2 C338.4,178.2 339.5,175.4 340.3,173.7 C341.1,172.0 341.7,170.7 342.2,170.0 C342.7,169.3 342.2,170.6 343.1,169.3 C344.0,168.0 345.7,164.8 347.3,162.3 C348.9,159.9 351.3,156.4 352.9,154.6 C354.5,152.8 355.7,152.0 357.1,151.2 C358.5,150.4 359.9,149.7 361.3,149.8 C362.7,149.9 364.4,150.5 365.3,151.9 C366.2,153.3 366.0,155.4 367.0,158.1 C368.0,160.8 370.1,165.1 371.2,167.9 C372.3,170.7 373.1,172.4 373.9,174.9 C374.7,177.4 375.3,180.4 376.0,183.2 C376.7,186.0 377.4,189.8 378.1,191.6 C378.8,193.3 379.4,193.5 380.2,193.7 C381.0,193.9 382.1,192.7 383.0,193.0 C383.9,193.3 384.9,193.9 385.8,195.8 C386.7,197.7 387.3,201.9 388.3,204.4 C389.3,206.9 390.9,209.3 392.0,211.0 C393.1,212.7 394.0,212.3 395.0,214.8 C396.0,217.3 396.9,223.0 397.8,225.9 C398.7,228.8 399.5,233.0 400.6,232.4 C401.7,231.8 403.1,226.7 404.3,222.2 C405.5,217.7 406.4,209.8 408.0,205.5 C409.6,201.2 411.9,197.4 413.6,196.5 C415.3,195.6 416.9,197.2 418.3,199.9 C419.7,202.6 420.9,207.3 422.0,212.9 C423.1,218.5 423.9,227.2 424.8,233.4 C425.7,239.6 426.5,249.2 427.6,250.1 C428.7,251.0 430.1,243.0 431.3,239.0 C432.5,235.0 433.6,229.2 435.0,225.9 C436.4,222.6 438.9,220.6 439.7,219.4 C440.5,218.2 439.0,217.3 440.0,218.5 C441.0,219.7 444.2,224.4 445.6,226.8 C447.0,229.2 447.5,232.4 448.4,233.1 C449.3,233.8 450.3,231.5 451.2,231.0 C452.1,230.5 452.9,230.0 454.0,230.3 C455.1,230.7 456.8,231.8 458.1,233.1 C459.4,234.4 460.6,238.3 461.6,238.0 C462.7,237.7 463.5,233.1 464.4,231.0 C465.3,228.9 466.4,226.7 467.2,225.4 C468.0,224.1 468.6,223.3 469.3,223.4 C470.0,223.5 470.7,224.8 471.4,226.1 C472.1,227.4 472.7,229.5 473.5,231.0 C474.3,232.5 475.4,234.0 476.3,235.2 C477.2,236.4 478.2,237.1 479.1,238.0 C480.0,238.9 480.9,240.1 481.8,240.8 C482.7,241.5 483.7,242.7 484.6,242.2 C485.5,241.7 486.5,239.4 487.4,238.0 C488.3,236.6 489.3,234.0 490.2,233.8 C491.1,233.6 491.9,235.4 493.0,236.6 C494.1,237.8 495.7,238.9 497.0,240.8 C498.3,242.7 499.5,247.6 500.7,248.2 C501.9,248.8 503.3,246.7 504.4,244.5 C505.5,242.3 506.1,235.8 507.2,235.2 C508.3,234.6 509.8,239.6 511.0,240.8 C512.2,242.0 513.4,242.0 514.6,242.6 C515.8,243.2 517.1,243.9 518.3,244.5 C519.5,245.1 520.8,246.2 522.0,246.4 C523.2,246.6 524.4,246.8 525.8,245.5 C527.2,244.2 529.0,238.8 530.4,238.9 C531.8,239.1 532.8,245.2 534.2,246.4 C535.6,247.7 537.4,245.8 538.8,246.4 C540.2,247.0 541.4,251.7 542.5,250.1 C543.6,248.5 544.2,238.6 545.3,237.1 C546.4,235.6 547.8,239.9 549.0,240.8 C550.2,241.7 551.5,241.7 552.7,242.6 C553.9,243.5 555.5,245.4 556.0,246.0" fill="none" stroke="#ffa500" stroke-width="2.40" stroke-linejoin="round"/><path d="M91.5,218.1 C94.8,217.8 104.1,216.8 111.3,216.3 C118.5,215.8 127.5,215.2 134.5,214.9 C141.4,214.6 147.2,214.2 153.0,214.2 C158.8,214.2 163.6,214.3 169.4,214.7 C175.2,215.1 183.1,216.0 188.0,216.5 C192.9,217.0 194.5,216.8 199.0,217.9 C203.5,219.0 210.5,221.6 215.2,223.3 C219.8,225.0 223.0,226.6 226.9,227.9 C230.8,229.2 234.7,230.8 238.5,230.9 C242.3,231.0 245.9,229.6 250.0,228.7 C254.1,227.8 258.5,226.6 262.8,225.5 C267.1,224.4 271.1,223.6 275.6,222.3 C280.1,221.0 285.4,220.5 290.0,217.8 C294.6,215.1 300.8,208.3 303.3,206.3 C305.8,204.3 303.9,206.7 305.0,205.8 C306.1,204.9 308.1,202.5 309.7,200.7 C311.2,198.9 312.8,196.8 314.3,195.1 C315.9,193.4 317.4,191.9 319.0,190.5 C320.6,189.1 322.1,187.9 323.6,186.7 C325.2,185.5 326.8,184.7 328.3,183.5 C329.9,182.3 331.5,181.1 332.9,179.8 C334.3,178.5 335.4,177.2 336.6,175.6 C337.8,174.0 339.5,171.8 340.3,170.0 C341.1,168.2 340.5,167.3 341.7,165.1 C342.9,162.9 345.4,159.1 347.3,156.7 C349.2,154.3 351.0,152.2 352.9,150.5 C354.8,148.8 356.9,147.5 358.5,146.7 C360.1,145.9 361.8,145.7 362.7,145.6 C363.6,145.5 363.2,145.3 364.2,145.9 C365.1,146.5 366.8,147.5 368.4,149.1 C370.0,150.7 372.3,153.1 373.9,155.3 C375.5,157.5 376.7,159.7 378.1,162.3 C379.5,164.9 380.9,167.7 382.3,170.7 C383.7,173.7 385.2,177.4 386.5,180.4 C387.8,183.4 388.9,186.0 390.0,188.8 C391.1,191.6 392.0,194.7 392.8,197.2 C393.6,199.7 393.9,200.7 395.0,203.6 C396.1,206.5 398.1,211.4 399.7,214.8 C401.2,218.2 402.8,220.7 404.3,224.1 C405.9,227.5 407.4,232.9 409.0,235.2 C410.6,237.5 411.9,236.4 413.6,238.0 C415.3,239.6 417.6,245.9 419.2,244.5 C420.8,243.1 421.7,235.3 422.9,229.7 C424.1,224.1 425.2,216.6 426.6,211.0 C428.0,205.4 430.1,199.4 431.3,196.2 C432.6,192.9 433.0,191.5 434.1,191.5 C435.2,191.5 436.4,192.9 437.8,196.2 C439.2,199.4 441.0,205.1 442.4,211.0 C443.8,216.9 444.9,225.3 446.2,231.5 C447.4,237.7 448.8,245.2 449.9,248.3 C451.0,251.4 451.6,250.9 452.7,250.1 C453.8,249.3 455.0,245.6 456.4,243.6 C457.8,241.6 459.6,238.8 461.0,238.0 C462.4,237.2 463.3,237.9 464.8,239.0 C466.3,240.1 468.5,244.5 470.0,244.5 C471.5,244.5 472.5,241.1 473.7,238.9 C474.9,236.7 476.3,232.1 477.4,231.5 C478.5,230.9 479.3,233.0 480.2,235.2 C481.1,237.4 481.9,242.2 483.0,244.5 C484.1,246.8 485.4,248.7 486.7,249.2 C487.9,249.7 489.2,247.5 490.5,247.3 C491.8,247.1 493.0,248.2 494.2,248.2 C495.4,248.2 496.9,249.3 497.9,247.3 C498.9,245.3 499.1,239.0 500.2,236.0 C501.3,233.0 503.1,231.7 504.4,229.1 C505.7,226.5 507.0,222.4 507.9,220.7 C508.8,218.9 509.2,218.4 509.9,218.6 C510.6,218.8 511.3,220.1 512.0,222.1 C512.7,224.1 513.4,227.6 514.1,230.4 C514.8,233.2 515.4,236.7 516.2,238.8 C517.0,240.9 518.1,242.8 519.0,243.0 C519.9,243.2 520.8,241.8 521.8,240.2 C522.8,238.6 524.0,235.5 525.3,233.2 C526.6,230.9 528.3,227.9 529.5,226.3 C530.7,224.7 531.5,223.5 532.3,223.5 C533.1,223.5 533.7,224.7 534.4,226.3 C535.1,227.9 535.7,231.1 536.4,233.2 C537.1,235.3 537.7,236.9 538.5,238.8 C539.3,240.7 540.4,243.5 541.3,244.4 C542.2,245.3 543.2,246.5 544.1,244.4 C545.0,242.3 546.0,235.9 546.9,231.8 C547.8,227.7 548.9,221.6 549.7,220.0 C550.5,218.4 551.1,219.4 551.8,222.1 C552.5,224.8 553.4,231.9 553.9,236.0 C554.4,240.1 554.1,243.7 554.6,246.4 C555.1,249.1 556.6,251.1 557.0,252.0" fill="none" stroke="#c44e52" stroke-width="2.40" stroke-linejoin="round"/><path d="M91.5,246.7 C94.8,246.6 104.9,246.4 111.3,246.0 C117.7,245.6 123.7,245.0 129.9,244.2 C136.1,243.3 142.3,242.2 148.5,240.9 C154.7,239.6 160.4,238.1 167.0,236.3 C173.6,234.5 181.9,231.6 188.0,230.2 C194.1,228.8 198.3,228.8 203.6,227.9 C208.9,227.0 215.2,225.7 219.9,224.9 C224.6,224.1 226.8,223.5 231.5,223.3 C236.2,223.2 244.7,224.1 247.8,224.0 C250.9,223.9 248.8,223.8 250.0,222.9 C251.2,222.0 253.4,220.5 255.1,218.5 C256.8,216.5 258.5,213.4 260.2,210.8 C261.9,208.2 263.6,205.4 265.3,203.1 C267.0,200.8 268.7,198.8 270.4,196.7 C272.1,194.6 273.9,192.3 275.6,190.3 C277.3,188.3 279.0,186.4 280.7,184.6 C282.4,182.8 284.4,180.8 285.8,179.5 C287.2,178.2 288.1,177.6 289.0,176.9 C289.9,176.2 290.1,175.9 291.3,175.1 C292.5,174.3 294.4,173.1 296.0,172.3 C297.6,171.5 299.1,171.0 300.6,170.5 C302.2,170.0 303.8,169.4 305.3,169.1 C306.9,168.8 308.3,168.5 309.9,168.6 C311.4,168.7 313.4,169.3 314.6,169.5 C315.8,169.7 316.4,170.2 317.3,170.0 C318.2,169.8 319.2,169.2 320.1,168.6 C321.0,168.0 321.6,167.8 322.5,166.3 C323.4,164.8 324.2,162.1 325.3,159.8 C326.4,157.5 327.6,154.7 329.0,152.4 C330.4,150.1 332.1,147.7 333.6,145.8 C335.2,143.9 336.7,142.3 338.3,141.2 C339.9,140.0 341.7,139.4 343.0,138.9 C344.3,138.4 345.0,138.4 346.0,138.3 C347.0,138.2 347.9,138.1 349.1,138.5 C350.3,138.9 351.8,139.4 353.2,140.6 C354.6,141.8 356.2,143.8 357.4,145.4 C358.6,147.1 359.6,148.2 360.5,150.5 C361.4,152.8 361.9,156.8 362.8,159.5 C363.7,162.2 364.7,164.6 365.6,166.5 C366.5,168.4 367.2,169.8 368.4,170.7 C369.6,171.6 371.2,171.6 372.6,172.1 C374.0,172.6 375.3,172.6 376.7,173.5 C378.1,174.4 379.5,176.1 380.9,177.7 C382.3,179.3 383.7,181.6 385.1,183.2 C386.5,184.8 387.9,186.6 389.3,187.4 C390.7,188.2 392.1,187.9 393.5,188.1 C394.9,188.3 396.3,188.0 397.7,188.8 C399.1,189.6 400.6,191.4 401.8,193.0 C403.0,194.6 403.9,196.8 404.6,198.6 C405.3,200.4 405.2,202.1 406.2,203.6 C407.2,205.1 409.2,207.0 410.8,207.3 C412.4,207.6 414.1,205.2 415.5,205.5 C416.9,205.8 418.0,207.0 419.2,209.2 C420.4,211.4 421.7,219.1 422.9,218.5 C424.1,217.9 425.4,209.5 426.6,205.5 C427.8,201.5 429.1,196.9 430.3,194.3 C431.6,191.7 432.5,191.2 434.1,189.7 C435.7,188.2 438.5,186.8 439.7,185.5 C440.9,184.2 440.9,183.0 441.5,182.0 C442.1,181.0 442.8,179.9 443.5,179.3 C444.2,178.7 444.9,178.0 445.6,178.4 C446.3,178.8 447.1,180.1 447.8,181.5 C448.6,182.9 449.4,183.9 450.1,186.6 C450.9,189.3 451.4,193.4 452.3,197.8 C453.2,202.2 454.3,209.7 455.3,212.9 C456.3,216.1 457.2,215.5 458.1,217.1 C459.0,218.7 460.1,221.1 460.9,222.7 C461.7,224.3 462.2,226.8 463.0,226.8 C463.8,226.8 464.9,223.8 465.8,222.7 C466.7,221.5 467.7,219.7 468.6,219.9 C469.5,220.1 470.5,222.7 471.4,224.1 C472.3,225.5 473.3,228.0 474.2,228.2 C475.1,228.4 476.1,225.6 477.0,225.4 C477.9,225.2 478.8,225.6 479.7,226.8 C480.6,228.0 481.6,232.2 482.5,232.4 C483.4,232.6 484.4,229.8 485.3,228.2 C486.2,226.6 487.2,223.7 488.1,222.7 C489.0,221.7 490.0,224.1 490.9,222.0 C491.8,219.9 492.8,212.7 493.7,210.1 C494.6,207.5 495.1,205.4 496.0,206.7 C496.9,208.0 498.0,214.2 498.8,217.9 C499.6,221.6 500.2,225.6 500.9,229.1 C501.6,232.6 502.2,236.2 503.0,238.8 C503.8,241.4 505.0,243.9 505.8,244.4 C506.6,244.9 507.2,242.3 507.9,241.6 C508.6,240.9 509.2,240.0 509.9,240.2 C510.6,240.4 511.3,242.1 512.0,243.0 C512.7,243.9 513.3,246.0 514.1,245.8 C514.9,245.6 515.9,243.7 516.9,241.6 C517.9,239.5 519.2,236.4 520.4,233.2 C521.6,229.9 523.0,225.2 523.9,222.1 C524.8,219.0 525.3,216.0 526.0,214.4 C526.7,212.8 527.4,211.7 528.1,212.3 C528.8,212.9 529.5,214.9 530.2,217.9 C530.9,220.9 531.6,226.7 532.3,230.4 C533.0,234.1 533.7,240.0 534.4,240.2 C535.1,240.4 535.7,234.2 536.4,231.8 C537.1,229.4 537.8,225.8 538.5,225.6 C539.2,225.4 539.9,227.7 540.6,230.4 C541.3,233.1 542.0,238.8 542.7,241.6 C543.4,244.4 544.1,247.0 544.8,247.2 C545.5,247.4 546.2,244.9 546.9,243.0 C547.6,241.1 548.3,237.4 549.0,236.0 C549.7,234.6 550.4,234.1 551.1,234.6 C551.8,235.1 552.6,236.9 553.2,238.8 C553.8,240.7 554.0,243.9 554.6,245.8 C555.2,247.7 556.6,249.3 557.0,250.0" fill="none" stroke="#4c72b0" stroke-width="2.40" stroke-linejoin="round"/><path d="M91.5,193.4 C94.3,192.9 102.1,191.3 108.3,190.2 C114.5,189.1 121.8,187.9 128.6,186.8 C135.4,185.7 143.7,184.4 148.9,183.8 C154.1,183.2 156.4,183.3 160.0,183.1 C163.6,182.9 167.0,182.5 170.5,182.4 C174.0,182.3 177.5,182.5 181.0,182.6 C184.5,182.7 187.9,182.7 191.4,182.9 C194.9,183.1 198.9,183.9 201.8,184.0 C204.7,184.1 206.5,184.0 208.8,183.6 C211.1,183.2 213.5,182.5 215.8,181.5 C218.1,180.5 220.5,178.9 222.8,177.7 C225.1,176.5 227.4,175.4 229.7,174.2 C232.0,173.0 234.5,171.8 236.7,170.7 C238.9,169.6 240.7,168.4 243.1,167.5 C245.5,166.6 248.6,165.7 251.3,165.1 C254.0,164.5 256.7,164.0 259.4,164.0 C262.1,164.0 264.8,164.2 267.5,165.1 C270.2,165.9 273.3,167.8 275.7,169.1 C278.1,170.3 280.2,171.8 282.0,172.6 C283.8,173.4 285.1,173.7 286.7,174.2 C288.2,174.7 289.8,175.4 291.3,175.6 C292.9,175.8 294.4,175.8 296.0,175.6 C297.6,175.4 299.1,175.2 300.6,174.7 C302.2,174.1 303.8,173.2 305.3,172.3 C306.9,171.4 308.3,170.3 309.9,169.5 C311.4,168.7 313.1,167.7 314.6,167.2 C316.2,166.7 318.1,167.2 319.2,166.7 C320.3,166.2 320.6,165.0 321.1,164.0 C321.7,163.0 321.8,162.9 322.5,160.8 C323.2,158.7 324.4,154.4 325.3,151.4 C326.2,148.4 327.1,145.6 328.0,143.0 C328.9,140.4 329.9,138.0 330.8,135.6 C331.8,133.2 332.5,131.0 333.7,128.7 C334.9,126.4 336.7,123.3 337.9,121.7 C339.1,120.1 339.9,119.8 341.0,119.2 C342.1,118.6 342.8,118.0 344.2,118.2 C345.6,118.4 347.6,118.5 349.1,120.3 C350.6,122.0 351.9,125.4 353.2,128.7 C354.5,132.0 355.6,136.4 356.7,139.9 C357.8,143.4 358.7,147.3 359.5,149.6 C360.3,151.9 361.1,153.5 361.6,153.8 C362.2,154.1 361.9,151.4 362.8,151.2 C363.7,151.0 365.4,151.8 367.0,152.6 C368.6,153.4 370.9,154.7 372.6,156.0 C374.3,157.3 375.9,159.1 377.4,160.2 C378.9,161.2 380.2,162.5 381.6,162.3 C383.0,162.1 384.3,160.2 385.8,158.8 C387.3,157.4 389.3,154.4 390.7,153.9 C392.1,153.4 393.1,154.4 394.2,156.0 C395.2,157.6 396.1,160.9 397.0,163.7 C397.9,166.5 398.9,171.2 399.7,172.8 C400.5,174.4 400.9,174.0 401.8,173.5 C402.7,173.0 404.2,170.3 405.3,170.0 C406.4,169.7 407.1,170.2 408.1,171.4 C409.2,172.6 410.4,175.5 411.6,177.0 C412.8,178.5 413.9,180.3 415.1,180.4 C416.3,180.5 417.7,178.1 418.6,177.7 C419.6,177.2 419.5,176.5 420.8,177.7 C422.1,178.9 425.2,183.2 426.6,185.0 C428.0,186.8 428.2,189.1 429.4,188.7 C430.6,188.2 432.2,182.0 433.6,182.3 C435.0,182.6 436.7,188.8 437.8,190.6 C438.9,192.4 438.9,191.1 440.0,193.4 C441.1,195.7 442.8,202.1 444.2,204.5 C445.6,206.9 447.1,208.2 448.4,208.0 C449.7,207.8 450.9,204.7 451.9,203.1 C452.9,201.5 453.7,198.4 454.6,198.2 C455.5,198.0 456.6,199.7 457.4,201.7 C458.2,203.7 458.8,207.5 459.5,210.1 C460.2,212.7 460.9,216.4 461.6,217.1 C462.3,217.8 462.9,214.9 463.7,214.3 C464.5,213.7 465.7,213.8 466.5,213.6 C467.3,213.4 467.9,213.9 468.6,212.9 C469.3,211.9 469.9,209.4 470.7,207.3 C471.5,205.2 472.7,201.0 473.5,200.3 C474.3,199.6 474.9,201.0 475.6,203.1 C476.3,205.2 476.9,211.0 477.7,212.9 C478.5,214.8 479.5,213.6 480.4,214.3 C481.3,215.0 482.3,215.5 483.2,217.1 C484.1,218.7 485.1,222.2 486.0,224.1 C486.9,225.9 488.0,225.9 488.8,228.2 C489.6,230.5 490.1,237.8 490.9,238.0 C491.7,238.2 492.8,230.6 493.7,229.6 C494.6,228.6 495.1,233.1 496.0,231.8 C496.9,230.6 497.9,224.7 498.8,222.1 C499.7,219.5 500.7,217.8 501.6,216.5 C502.5,215.2 503.1,213.5 504.0,214.4 C504.9,215.3 506.0,219.4 507.0,222.0 C508.0,224.6 509.0,228.6 510.0,230.2 C511.0,231.8 512.1,230.8 513.0,231.7 C513.9,232.6 514.5,236.8 515.3,235.5 C516.1,234.2 516.7,226.2 517.6,224.2 C518.5,222.2 519.7,223.4 520.6,223.4 C521.5,223.4 522.2,221.5 523.0,224.2 C523.8,226.8 524.5,236.0 525.1,239.3 C525.7,242.6 526.1,244.6 526.7,243.8 C527.3,243.0 528.1,236.5 528.9,234.7 C529.6,232.9 530.4,234.1 531.2,233.2 C532.0,232.3 532.9,228.7 533.5,229.5 C534.1,230.3 534.5,236.7 535.0,237.8 C535.5,238.9 535.9,235.7 536.5,236.3 C537.1,236.9 538.0,240.0 538.7,241.5 C539.5,243.0 540.2,244.9 541.0,245.3 C541.8,245.7 542.5,243.6 543.3,243.8 C544.0,244.1 544.8,246.8 545.5,246.8 C546.2,246.8 547.0,245.1 547.8,243.8 C548.6,242.6 549.4,239.4 550.1,239.3 C550.9,239.2 551.7,240.6 552.3,243.1 C552.9,245.6 553.2,251.2 553.8,254.4 C554.4,257.6 555.6,260.7 556.0,262.0" fill="none" stroke="#111111" stroke-width="2.40" stroke-linejoin="round"/></g>
<g clip-path="url(#c1)"><path d="M724.2,193.3 C731.5,193.4 759.2,193.6 768.1,193.7 C777.0,193.8 775.5,193.6 777.9,193.7 C780.3,193.8 780.2,193.8 782.7,194.0 C785.2,194.2 790.4,195.1 792.8,194.9 C795.2,194.7 794.7,193.7 797.0,193.0 C799.3,192.3 804.0,191.1 806.4,190.6 C808.8,190.1 808.8,190.2 811.3,189.9 C813.8,189.6 818.6,189.0 821.1,188.8 C823.6,188.6 823.6,188.9 826.0,188.5 C828.4,188.1 832.9,187.1 835.4,186.4 C837.9,185.7 838.8,185.1 841.0,184.2 C843.2,183.3 846.6,181.8 848.7,180.9 C850.8,180.0 851.3,179.5 853.6,178.5 C855.9,177.5 860.3,175.5 862.6,174.8 C864.9,174.1 865.0,174.5 867.4,174.4 C869.8,174.3 874.3,174.5 876.8,174.4 C879.2,174.3 879.9,174.3 882.1,174.0 C884.3,173.7 887.5,173.2 889.8,172.4 C892.1,171.7 893.3,170.4 895.9,169.5 C898.5,168.6 902.9,167.4 905.3,166.7 C907.7,166.0 907.8,165.8 910.2,165.1 C912.6,164.3 917.3,163.2 919.5,162.2 C921.7,161.1 921.7,160.5 923.3,158.8 C924.9,157.1 927.5,153.9 929.0,151.9 C930.5,149.9 931.0,148.8 932.2,146.8 C933.4,144.8 935.0,142.0 936.4,139.8 C937.8,137.6 939.3,135.6 940.6,133.7 C941.9,131.8 942.9,129.9 944.0,128.5 C945.1,127.1 946.3,125.9 947.4,125.5 C948.5,125.1 949.5,125.6 950.5,126.0 C951.5,126.4 952.5,127.1 953.7,128.0 C954.9,128.9 956.4,130.2 957.8,131.5 C959.2,132.8 960.8,134.3 962.0,135.7 C963.2,137.1 963.9,137.6 964.8,140.0 C965.7,142.4 966.5,147.2 967.6,150.0 C968.7,152.8 969.8,154.2 971.3,156.5 C972.8,158.8 974.7,161.7 976.9,164.0 C979.1,166.3 981.8,168.7 984.4,170.5 C987.0,172.3 989.3,173.5 992.4,174.6 C995.5,175.7 1000.4,176.7 1002.9,177.2 C1005.4,177.7 1005.1,177.3 1007.6,177.7 C1010.1,178.1 1014.6,179.2 1018.0,179.8 C1021.4,180.4 1024.6,180.9 1028.0,181.5 C1031.4,182.1 1035.6,182.9 1038.4,183.5 C1041.2,184.1 1042.8,184.3 1044.7,185.0 C1046.7,185.7 1048.5,187.1 1050.1,187.9 C1051.7,188.7 1053.1,189.2 1054.5,189.8 C1055.9,190.4 1056.8,190.9 1058.3,191.5 C1059.8,192.1 1061.9,193.0 1063.5,193.6 C1065.1,194.2 1066.4,194.5 1068.0,194.8 C1069.6,195.1 1071.3,195.5 1073.2,195.6 C1075.1,195.7 1077.7,195.6 1079.5,195.5 C1081.3,195.4 1082.4,195.2 1083.8,195.1 C1085.2,194.9 1086.2,194.9 1087.7,194.6 C1089.2,194.3 1091.2,193.8 1092.6,193.5 C1094.0,193.2 1095.1,192.8 1096.0,192.6 C1096.9,192.4 1097.3,191.9 1098.1,192.6 C1098.9,193.2 1099.9,195.7 1100.9,196.5 C1101.9,197.3 1102.8,197.5 1104.1,197.4 C1105.4,197.3 1107.4,196.5 1109.0,196.0 C1110.6,195.5 1112.4,194.4 1113.8,194.6 C1115.2,194.8 1116.0,196.6 1117.3,197.4 C1118.6,198.2 1121.0,199.2 1121.8,199.5" fill="none" stroke="#64b5cd" stroke-width="2.40" stroke-dasharray="10.084,4.639" stroke-dashoffset="0.200" clip-path="url(#db0)"/><path d="M724.2,193.3 C731.5,193.4 759.2,193.6 768.1,193.7 C777.0,193.8 775.5,193.6 777.9,193.7 C780.3,193.8 780.2,193.8 782.7,194.0 C785.2,194.2 790.4,195.1 792.8,194.9 C795.2,194.7 794.7,193.7 797.0,193.0 C799.3,192.3 804.0,191.1 806.4,190.6 C808.8,190.1 808.8,190.2 811.3,189.9 C813.8,189.6 818.6,189.0 821.1,188.8 C823.6,188.6 823.6,188.9 826.0,188.5 C828.4,188.1 832.9,187.1 835.4,186.4 C837.9,185.7 838.8,185.1 841.0,184.2 C843.2,183.3 846.6,181.8 848.7,180.9 C850.8,180.0 851.3,179.5 853.6,178.5 C855.9,177.5 860.3,175.5 862.6,174.8 C864.9,174.1 865.0,174.5 867.4,174.4 C869.8,174.3 874.3,174.5 876.8,174.4 C879.2,174.3 879.9,174.3 882.1,174.0 C884.3,173.7 887.5,173.2 889.8,172.4 C892.1,171.7 893.3,170.4 895.9,169.5 C898.5,168.6 902.9,167.4 905.3,166.7 C907.7,166.0 907.8,165.8 910.2,165.1 C912.6,164.3 917.3,163.2 919.5,162.2 C921.7,161.1 921.7,160.5 923.3,158.8 C924.9,157.1 927.5,153.9 929.0,151.9 C930.5,149.9 931.0,148.8 932.2,146.8 C933.4,144.8 935.0,142.0 936.4,139.8 C937.8,137.6 939.3,135.6 940.6,133.7 C941.9,131.8 942.9,129.9 944.0,128.5 C945.1,127.1 946.3,125.9 947.4,125.5 C948.5,125.1 949.5,125.6 950.5,126.0 C951.5,126.4 952.5,127.1 953.7,128.0 C954.9,128.9 956.4,130.2 957.8,131.5 C959.2,132.8 960.8,134.3 962.0,135.7 C963.2,137.1 963.9,137.6 964.8,140.0 C965.7,142.4 966.5,147.2 967.6,150.0 C968.7,152.8 969.8,154.2 971.3,156.5 C972.8,158.8 974.7,161.7 976.9,164.0 C979.1,166.3 981.8,168.7 984.4,170.5 C987.0,172.3 989.3,173.5 992.4,174.6 C995.5,175.7 1000.4,176.7 1002.9,177.2 C1005.4,177.7 1005.1,177.3 1007.6,177.7 C1010.1,178.1 1014.6,179.2 1018.0,179.8 C1021.4,180.4 1024.6,180.9 1028.0,181.5 C1031.4,182.1 1035.6,182.9 1038.4,183.5 C1041.2,184.1 1042.8,184.3 1044.7,185.0 C1046.7,185.7 1048.5,187.1 1050.1,187.9 C1051.7,188.7 1053.1,189.2 1054.5,189.8 C1055.9,190.4 1056.8,190.9 1058.3,191.5 C1059.8,192.1 1061.9,193.0 1063.5,193.6 C1065.1,194.2 1066.4,194.5 1068.0,194.8 C1069.6,195.1 1071.3,195.5 1073.2,195.6 C1075.1,195.7 1077.7,195.6 1079.5,195.5 C1081.3,195.4 1082.4,195.2 1083.8,195.1 C1085.2,194.9 1086.2,194.9 1087.7,194.6 C1089.2,194.3 1091.2,193.8 1092.6,193.5 C1094.0,193.2 1095.1,192.8 1096.0,192.6 C1096.9,192.4 1097.3,191.9 1098.1,192.6 C1098.9,193.2 1099.9,195.7 1100.9,196.5 C1101.9,197.3 1102.8,197.5 1104.1,197.4 C1105.4,197.3 1107.4,196.5 1109.0,196.0 C1110.6,195.5 1112.4,194.4 1113.8,194.6 C1115.2,194.8 1116.0,196.6 1117.3,197.4 C1118.6,198.2 1121.0,199.2 1121.8,199.5" fill="none" stroke="#64b5cd" stroke-width="2.40" stroke-dasharray="9.588,4.411" stroke-dashoffset="4.798" clip-path="url(#db1)"/><path d="M724.2,193.3 C731.5,193.4 759.2,193.6 768.1,193.7 C777.0,193.8 775.5,193.6 777.9,193.7 C780.3,193.8 780.2,193.8 782.7,194.0 C785.2,194.2 790.4,195.1 792.8,194.9 C795.2,194.7 794.7,193.7 797.0,193.0 C799.3,192.3 804.0,191.1 806.4,190.6 C808.8,190.1 808.8,190.2 811.3,189.9 C813.8,189.6 818.6,189.0 821.1,188.8 C823.6,188.6 823.6,188.9 826.0,188.5 C828.4,188.1 832.9,187.1 835.4,186.4 C837.9,185.7 838.8,185.1 841.0,184.2 C843.2,183.3 846.6,181.8 848.7,180.9 C850.8,180.0 851.3,179.5 853.6,178.5 C855.9,177.5 860.3,175.5 862.6,174.8 C864.9,174.1 865.0,174.5 867.4,174.4 C869.8,174.3 874.3,174.5 876.8,174.4 C879.2,174.3 879.9,174.3 882.1,174.0 C884.3,173.7 887.5,173.2 889.8,172.4 C892.1,171.7 893.3,170.4 895.9,169.5 C898.5,168.6 902.9,167.4 905.3,166.7 C907.7,166.0 907.8,165.8 910.2,165.1 C912.6,164.3 917.3,163.2 919.5,162.2 C921.7,161.1 921.7,160.5 923.3,158.8 C924.9,157.1 927.5,153.9 929.0,151.9 C930.5,149.9 931.0,148.8 932.2,146.8 C933.4,144.8 935.0,142.0 936.4,139.8 C937.8,137.6 939.3,135.6 940.6,133.7 C941.9,131.8 942.9,129.9 944.0,128.5 C945.1,127.1 946.3,125.9 947.4,125.5 C948.5,125.1 949.5,125.6 950.5,126.0 C951.5,126.4 952.5,127.1 953.7,128.0 C954.9,128.9 956.4,130.2 957.8,131.5 C959.2,132.8 960.8,134.3 962.0,135.7 C963.2,137.1 963.9,137.6 964.8,140.0 C965.7,142.4 966.5,147.2 967.6,150.0 C968.7,152.8 969.8,154.2 971.3,156.5 C972.8,158.8 974.7,161.7 976.9,164.0 C979.1,166.3 981.8,168.7 984.4,170.5 C987.0,172.3 989.3,173.5 992.4,174.6 C995.5,175.7 1000.4,176.7 1002.9,177.2 C1005.4,177.7 1005.1,177.3 1007.6,177.7 C1010.1,178.1 1014.6,179.2 1018.0,179.8 C1021.4,180.4 1024.6,180.9 1028.0,181.5 C1031.4,182.1 1035.6,182.9 1038.4,183.5 C1041.2,184.1 1042.8,184.3 1044.7,185.0 C1046.7,185.7 1048.5,187.1 1050.1,187.9 C1051.7,188.7 1053.1,189.2 1054.5,189.8 C1055.9,190.4 1056.8,190.9 1058.3,191.5 C1059.8,192.1 1061.9,193.0 1063.5,193.6 C1065.1,194.2 1066.4,194.5 1068.0,194.8 C1069.6,195.1 1071.3,195.5 1073.2,195.6 C1075.1,195.7 1077.7,195.6 1079.5,195.5 C1081.3,195.4 1082.4,195.2 1083.8,195.1 C1085.2,194.9 1086.2,194.9 1087.7,194.6 C1089.2,194.3 1091.2,193.8 1092.6,193.5 C1094.0,193.2 1095.1,192.8 1096.0,192.6 C1096.9,192.4 1097.3,191.9 1098.1,192.6 C1098.9,193.2 1099.9,195.7 1100.9,196.5 C1101.9,197.3 1102.8,197.5 1104.1,197.4 C1105.4,197.3 1107.4,196.5 1109.0,196.0 C1110.6,195.5 1112.4,194.4 1113.8,194.6 C1115.2,194.8 1116.0,196.6 1117.3,197.4 C1118.6,198.2 1121.0,199.2 1121.8,199.5" fill="none" stroke="#64b5cd" stroke-width="2.40" stroke-dasharray="10.193,4.689" stroke-dashoffset="10.210" clip-path="url(#db2)"/><path d="M724.2,193.3 C731.5,193.4 759.2,193.6 768.1,193.7 C777.0,193.8 775.5,193.6 777.9,193.7 C780.3,193.8 780.2,193.8 782.7,194.0 C785.2,194.2 790.4,195.1 792.8,194.9 C795.2,194.7 794.7,193.7 797.0,193.0 C799.3,192.3 804.0,191.1 806.4,190.6 C808.8,190.1 808.8,190.2 811.3,189.9 C813.8,189.6 818.6,189.0 821.1,188.8 C823.6,188.6 823.6,188.9 826.0,188.5 C828.4,188.1 832.9,187.1 835.4,186.4 C837.9,185.7 838.8,185.1 841.0,184.2 C843.2,183.3 846.6,181.8 848.7,180.9 C850.8,180.0 851.3,179.5 853.6,178.5 C855.9,177.5 860.3,175.5 862.6,174.8 C864.9,174.1 865.0,174.5 867.4,174.4 C869.8,174.3 874.3,174.5 876.8,174.4 C879.2,174.3 879.9,174.3 882.1,174.0 C884.3,173.7 887.5,173.2 889.8,172.4 C892.1,171.7 893.3,170.4 895.9,169.5 C898.5,168.6 902.9,167.4 905.3,166.7 C907.7,166.0 907.8,165.8 910.2,165.1 C912.6,164.3 917.3,163.2 919.5,162.2 C921.7,161.1 921.7,160.5 923.3,158.8 C924.9,157.1 927.5,153.9 929.0,151.9 C930.5,149.9 931.0,148.8 932.2,146.8 C933.4,144.8 935.0,142.0 936.4,139.8 C937.8,137.6 939.3,135.6 940.6,133.7 C941.9,131.8 942.9,129.9 944.0,128.5 C945.1,127.1 946.3,125.9 947.4,125.5 C948.5,125.1 949.5,125.6 950.5,126.0 C951.5,126.4 952.5,127.1 953.7,128.0 C954.9,128.9 956.4,130.2 957.8,131.5 C959.2,132.8 960.8,134.3 962.0,135.7 C963.2,137.1 963.9,137.6 964.8,140.0 C965.7,142.4 966.5,147.2 967.6,150.0 C968.7,152.8 969.8,154.2 971.3,156.5 C972.8,158.8 974.7,161.7 976.9,164.0 C979.1,166.3 981.8,168.7 984.4,170.5 C987.0,172.3 989.3,173.5 992.4,174.6 C995.5,175.7 1000.4,176.7 1002.9,177.2 C1005.4,177.7 1005.1,177.3 1007.6,177.7 C1010.1,178.1 1014.6,179.2 1018.0,179.8 C1021.4,180.4 1024.6,180.9 1028.0,181.5 C1031.4,182.1 1035.6,182.9 1038.4,183.5 C1041.2,184.1 1042.8,184.3 1044.7,185.0 C1046.7,185.7 1048.5,187.1 1050.1,187.9 C1051.7,188.7 1053.1,189.2 1054.5,189.8 C1055.9,190.4 1056.8,190.9 1058.3,191.5 C1059.8,192.1 1061.9,193.0 1063.5,193.6 C1065.1,194.2 1066.4,194.5 1068.0,194.8 C1069.6,195.1 1071.3,195.5 1073.2,195.6 C1075.1,195.7 1077.7,195.6 1079.5,195.5 C1081.3,195.4 1082.4,195.2 1083.8,195.1 C1085.2,194.9 1086.2,194.9 1087.7,194.6 C1089.2,194.3 1091.2,193.8 1092.6,193.5 C1094.0,193.2 1095.1,192.8 1096.0,192.6 C1096.9,192.4 1097.3,191.9 1098.1,192.6 C1098.9,193.2 1099.9,195.7 1100.9,196.5 C1101.9,197.3 1102.8,197.5 1104.1,197.4 C1105.4,197.3 1107.4,196.5 1109.0,196.0 C1110.6,195.5 1112.4,194.4 1113.8,194.6 C1115.2,194.8 1116.0,196.6 1117.3,197.4 C1118.6,198.2 1121.0,199.2 1121.8,199.5" fill="none" stroke="#64b5cd" stroke-width="2.40" stroke-dasharray="10.063,4.629" stroke-dashoffset="5.266" clip-path="url(#db3)"/><path d="M724.2,193.3 C731.5,193.4 759.2,193.6 768.1,193.7 C777.0,193.8 775.5,193.6 777.9,193.7 C780.3,193.8 780.2,193.8 782.7,194.0 C785.2,194.2 790.4,195.1 792.8,194.9 C795.2,194.7 794.7,193.7 797.0,193.0 C799.3,192.3 804.0,191.1 806.4,190.6 C808.8,190.1 808.8,190.2 811.3,189.9 C813.8,189.6 818.6,189.0 821.1,188.8 C823.6,188.6 823.6,188.9 826.0,188.5 C828.4,188.1 832.9,187.1 835.4,186.4 C837.9,185.7 838.8,185.1 841.0,184.2 C843.2,183.3 846.6,181.8 848.7,180.9 C850.8,180.0 851.3,179.5 853.6,178.5 C855.9,177.5 860.3,175.5 862.6,174.8 C864.9,174.1 865.0,174.5 867.4,174.4 C869.8,174.3 874.3,174.5 876.8,174.4 C879.2,174.3 879.9,174.3 882.1,174.0 C884.3,173.7 887.5,173.2 889.8,172.4 C892.1,171.7 893.3,170.4 895.9,169.5 C898.5,168.6 902.9,167.4 905.3,166.7 C907.7,166.0 907.8,165.8 910.2,165.1 C912.6,164.3 917.3,163.2 919.5,162.2 C921.7,161.1 921.7,160.5 923.3,158.8 C924.9,157.1 927.5,153.9 929.0,151.9 C930.5,149.9 931.0,148.8 932.2,146.8 C933.4,144.8 935.0,142.0 936.4,139.8 C937.8,137.6 939.3,135.6 940.6,133.7 C941.9,131.8 942.9,129.9 944.0,128.5 C945.1,127.1 946.3,125.9 947.4,125.5 C948.5,125.1 949.5,125.6 950.5,126.0 C951.5,126.4 952.5,127.1 953.7,128.0 C954.9,128.9 956.4,130.2 957.8,131.5 C959.2,132.8 960.8,134.3 962.0,135.7 C963.2,137.1 963.9,137.6 964.8,140.0 C965.7,142.4 966.5,147.2 967.6,150.0 C968.7,152.8 969.8,154.2 971.3,156.5 C972.8,158.8 974.7,161.7 976.9,164.0 C979.1,166.3 981.8,168.7 984.4,170.5 C987.0,172.3 989.3,173.5 992.4,174.6 C995.5,175.7 1000.4,176.7 1002.9,177.2 C1005.4,177.7 1005.1,177.3 1007.6,177.7 C1010.1,178.1 1014.6,179.2 1018.0,179.8 C1021.4,180.4 1024.6,180.9 1028.0,181.5 C1031.4,182.1 1035.6,182.9 1038.4,183.5 C1041.2,184.1 1042.8,184.3 1044.7,185.0 C1046.7,185.7 1048.5,187.1 1050.1,187.9 C1051.7,188.7 1053.1,189.2 1054.5,189.8 C1055.9,190.4 1056.8,190.9 1058.3,191.5 C1059.8,192.1 1061.9,193.0 1063.5,193.6 C1065.1,194.2 1066.4,194.5 1068.0,194.8 C1069.6,195.1 1071.3,195.5 1073.2,195.6 C1075.1,195.7 1077.7,195.6 1079.5,195.5 C1081.3,195.4 1082.4,195.2 1083.8,195.1 C1085.2,194.9 1086.2,194.9 1087.7,194.6 C1089.2,194.3 1091.2,193.8 1092.6,193.5 C1094.0,193.2 1095.1,192.8 1096.0,192.6 C1096.9,192.4 1097.3,191.9 1098.1,192.6 C1098.9,193.2 1099.9,195.7 1100.9,196.5 C1101.9,197.3 1102.8,197.5 1104.1,197.4 C1105.4,197.3 1107.4,196.5 1109.0,196.0 C1110.6,195.5 1112.4,194.4 1113.8,194.6 C1115.2,194.8 1116.0,196.6 1117.3,197.4 C1118.6,198.2 1121.0,199.2 1121.8,199.5" fill="none" stroke="#64b5cd" stroke-width="2.40" stroke-dasharray="10.000,4.600" stroke-dashoffset="2.620" clip-path="url(#db4)"/><path d="M697.5,229.1 C700.8,228.9 710.1,228.1 717.3,227.9 C724.5,227.8 732.8,227.9 740.5,228.2 C748.2,228.5 756.8,229.3 763.8,229.8 C770.8,230.3 777.4,230.9 782.4,231.4 C787.4,231.9 790.4,232.4 794.0,233.0 C797.6,233.6 800.0,233.6 804.0,234.9 C808.0,236.2 814.0,238.6 817.9,240.7 C821.8,242.8 824.5,245.8 827.2,247.7 C829.9,249.6 831.9,252.5 834.2,252.3 C836.5,252.1 838.9,249.2 841.2,246.5 C843.5,243.8 845.4,238.7 848.1,236.0 C850.8,233.3 854.7,231.5 857.4,230.2 C860.1,228.9 862.3,228.2 864.4,228.4 C866.5,228.6 868.5,229.4 870.2,231.4 C872.0,233.4 873.5,236.6 874.9,240.7 C876.3,244.8 877.5,251.5 878.4,255.8 C879.3,260.1 879.6,267.2 880.2,266.3 C880.9,265.4 881.4,256.6 882.3,250.5 C883.2,244.4 884.4,235.3 885.8,229.5 C887.2,223.7 888.8,219.3 890.5,215.6 C892.2,211.9 894.2,209.3 896.3,207.4 C898.4,205.5 901.4,204.2 903.3,204.0 C905.2,203.8 906.5,204.0 907.9,206.3 C909.2,208.6 910.5,210.4 911.4,217.9 C912.2,225.4 912.4,249.6 913.0,251.6 C913.6,253.6 914.3,236.4 915.0,230.0 C915.7,223.6 916.2,220.0 917.2,213.3 C918.2,206.6 919.3,197.2 920.7,190.0 C922.1,182.8 923.8,176.3 925.8,170.0 C927.8,163.7 930.8,156.7 932.8,152.0 C934.8,147.3 936.1,145.1 938.0,142.0 C939.9,138.9 941.9,135.5 944.0,133.6 C946.1,131.7 949.1,131.4 950.9,130.8 C952.7,130.2 953.8,130.1 955.0,130.0 C956.2,129.9 957.0,130.1 958.0,130.3 C959.0,130.5 959.9,130.9 961.0,131.3 C962.1,131.8 963.1,131.9 964.5,133.0 C965.9,134.1 967.8,135.5 969.4,137.9 C971.0,140.3 972.9,144.4 974.3,147.7 C975.6,151.0 976.4,153.7 977.5,157.5 C978.6,161.3 979.8,165.9 980.8,170.5 C981.8,175.1 982.5,180.2 983.2,185.1 C983.9,190.0 984.6,192.5 985.2,200.0 C985.8,207.5 986.2,220.8 986.6,230.0 C987.0,239.2 987.5,256.0 987.9,255.2 C988.3,254.4 988.6,233.7 989.0,225.0 C989.4,216.3 989.7,207.8 990.2,203.0 C990.7,198.2 990.9,197.0 991.8,196.5 C992.7,196.0 994.6,197.5 995.8,200.0 C997.0,202.5 998.1,206.4 998.8,211.7 C999.5,217.0 999.6,225.1 999.9,232.0 C1000.2,238.9 1000.4,254.3 1000.7,253.3 C1001.0,252.3 1001.4,232.4 1001.8,226.0 C1002.2,219.6 1002.6,217.1 1003.2,215.0 C1003.8,212.9 1004.7,213.2 1005.5,213.5 C1006.3,213.8 1007.2,215.8 1007.9,217.0 C1008.6,218.2 1008.9,221.5 1009.8,220.7 C1010.7,219.9 1012.0,215.9 1013.5,212.3 C1015.0,208.7 1017.1,203.0 1019.0,199.3 C1020.9,195.6 1022.9,192.1 1024.7,190.0 C1026.5,187.9 1028.2,186.5 1030.0,186.5 C1031.8,186.5 1034.2,186.3 1035.8,190.0 C1037.4,193.7 1038.4,202.4 1039.5,208.6 C1040.6,214.8 1041.5,221.0 1042.3,227.2 C1043.1,233.4 1043.4,241.8 1044.2,245.8 C1045.0,249.8 1045.9,250.2 1047.0,251.4 C1048.1,252.7 1049.6,252.1 1050.7,253.3 C1051.8,254.5 1052.7,257.6 1053.5,258.8 C1054.3,260.0 1054.7,262.9 1055.3,260.7 C1055.9,258.5 1056.5,254.0 1057.2,245.8 C1057.9,237.6 1058.4,220.7 1059.3,211.5 C1060.2,202.3 1061.4,195.2 1062.8,190.6 C1064.2,185.9 1065.9,183.6 1067.4,183.6 C1069.0,183.6 1070.7,184.0 1072.1,190.6 C1073.5,197.2 1074.6,212.6 1075.6,223.1 C1076.6,233.6 1077.3,247.2 1077.9,253.4 C1078.5,259.6 1078.5,262.2 1079.1,260.3 C1079.7,258.4 1080.4,243.2 1081.4,241.7 C1082.4,240.1 1083.7,249.8 1084.9,251.0 C1086.1,252.2 1087.2,252.2 1088.4,248.7 C1089.6,245.2 1090.6,236.1 1091.9,230.1 C1093.2,224.1 1095.2,213.9 1096.5,212.7 C1097.8,211.5 1098.8,218.3 1100.0,223.1 C1101.2,227.9 1102.3,237.4 1103.5,241.7 C1104.7,246.0 1105.6,248.6 1107.0,248.7 C1108.4,248.8 1110.4,250.5 1112.0,242.0 C1113.6,233.5 1115.2,204.6 1116.6,197.6 C1117.9,190.6 1119.1,196.4 1120.1,199.9 C1121.1,203.4 1121.4,210.8 1122.4,218.5 C1123.4,226.2 1124.6,240.6 1126.0,246.4 C1127.4,252.2 1129.1,256.1 1130.6,253.4 C1132.1,250.7 1133.8,235.3 1135.2,230.1 C1136.6,224.9 1137.5,221.2 1138.7,222.0 C1139.9,222.8 1141.0,230.4 1142.2,234.8 C1143.4,239.2 1144.4,249.5 1145.7,248.7 C1147.0,247.9 1149.0,236.3 1150.3,230.1 C1151.6,223.9 1152.6,210.7 1153.8,211.5 C1155.0,212.3 1156.1,228.6 1157.3,234.8 C1158.5,241.0 1159.8,246.2 1160.8,248.7 C1161.8,251.2 1162.6,249.8 1163.0,250.0" fill="none" stroke="#008080" stroke-width="2.40" stroke-linejoin="round"/><path d="M697.5,231.4 C700.8,231.3 710.1,230.7 717.3,230.9 C724.5,231.1 733.5,231.9 740.5,232.6 C747.5,233.3 753.3,233.9 759.1,234.9 C764.9,235.9 770.8,237.2 775.4,238.4 C780.0,239.6 783.9,240.9 787.0,241.9 C790.1,242.9 792.0,243.4 794.0,244.2 C796.0,245.0 796.9,244.9 799.3,246.5 C801.7,248.1 805.9,251.0 808.6,253.5 C811.3,256.0 813.7,259.7 815.6,261.6 C817.5,263.5 818.7,265.3 820.2,265.1 C821.8,264.9 823.0,263.0 824.9,260.5 C826.8,258.0 829.2,253.5 831.9,250.0 C834.6,246.5 838.1,242.4 841.2,239.5 C844.3,236.6 847.4,234.2 850.5,232.6 C853.6,231.0 857.1,230.0 859.8,229.8 C862.5,229.6 864.6,230.2 866.7,231.4 C868.8,232.6 870.9,235.6 872.6,237.2 C874.4,238.8 876.0,240.8 877.2,240.7 C878.4,240.6 878.5,236.9 880.0,236.5 C881.5,236.1 883.9,238.4 886.0,238.0 C888.1,237.6 890.9,237.5 892.8,234.2 C894.7,230.8 895.8,223.6 897.4,217.9 C899.0,212.2 901.0,204.8 902.6,200.0 C904.2,195.2 905.5,192.5 907.0,189.0 C908.5,185.5 910.3,182.3 911.9,179.1 C913.5,175.9 915.0,172.9 916.5,170.0 C918.0,167.1 919.7,164.0 921.2,161.6 C922.8,159.2 924.2,157.3 925.8,155.5 C927.3,153.7 929.0,151.8 930.5,150.5 C932.0,149.2 933.6,148.3 935.0,147.4 C936.4,146.5 937.8,145.5 939.0,145.0 C940.2,144.5 940.9,144.4 942.0,144.4 C943.1,144.4 944.3,144.5 945.5,144.8 C946.7,145.1 947.8,145.6 949.0,146.3 C950.2,147.0 951.4,148.0 952.5,149.2 C953.6,150.4 954.9,151.9 955.9,153.3 C956.9,154.7 957.7,155.9 958.5,157.5 C959.3,159.1 959.9,160.8 960.6,162.6 C961.3,164.3 961.9,166.1 962.5,168.0 C963.1,169.9 963.5,172.0 964.1,174.2 C964.7,176.4 965.4,178.7 966.0,181.0 C966.6,183.3 967.0,185.0 967.6,188.1 C968.2,191.2 969.2,195.5 969.9,199.8 C970.6,204.1 971.1,209.8 971.7,213.7 C972.3,217.6 972.5,220.9 973.4,223.0 C974.3,225.1 975.8,226.1 976.9,226.5 C978.0,226.9 978.9,226.0 980.0,225.5 C981.1,225.0 982.5,222.3 983.7,223.5 C984.9,224.7 986.2,230.4 987.4,232.8 C988.6,235.2 989.6,238.9 990.7,238.0 C991.8,237.1 992.9,228.1 994.0,227.2 C995.1,226.3 996.1,231.2 997.2,232.8 C998.3,234.4 999.3,234.3 1000.5,236.5 C1001.7,238.7 1003.0,243.9 1004.2,245.8 C1005.4,247.7 1006.4,247.5 1007.9,247.7 C1009.4,247.8 1011.6,247.3 1013.5,246.7 C1015.4,246.1 1017.1,245.1 1019.0,244.0 C1020.9,242.9 1023.1,241.0 1024.7,240.2 C1026.3,239.4 1027.0,239.1 1028.4,239.3 C1029.8,239.5 1031.5,240.3 1033.0,241.2 C1034.5,242.1 1036.2,243.5 1037.7,244.9 C1039.2,246.3 1040.8,248.1 1042.3,249.5 C1043.8,250.9 1045.5,253.6 1047.0,253.3 C1048.5,253.0 1050.4,248.9 1051.6,247.7 C1052.8,246.4 1053.3,244.2 1054.4,245.8 C1055.5,247.4 1057.1,258.8 1058.1,257.0 C1059.1,255.2 1059.1,244.3 1060.5,234.8 C1061.9,225.3 1064.6,207.3 1066.3,199.9 C1068.0,192.5 1069.4,190.2 1070.9,190.6 C1072.5,191.0 1074.2,195.2 1075.6,202.2 C1077.0,209.2 1077.9,225.0 1079.1,232.4 C1080.3,239.8 1081.2,243.9 1082.6,246.4 C1083.9,248.9 1085.7,249.9 1087.2,247.6 C1088.8,245.3 1090.4,239.4 1091.9,232.4 C1093.5,225.4 1095.2,208.0 1096.5,205.7 C1097.8,203.4 1099.0,212.9 1100.0,218.5 C1101.0,224.1 1101.3,235.2 1102.3,239.4 C1103.3,243.7 1104.8,244.8 1106.0,244.0 C1107.2,243.2 1108.5,242.5 1109.5,234.8 C1110.5,227.1 1111.0,205.8 1112.0,197.6 C1113.0,189.4 1114.3,184.0 1115.5,185.9 C1116.7,187.8 1117.8,199.9 1119.0,209.2 C1120.2,218.5 1121.2,233.9 1122.4,241.7 C1123.6,249.4 1124.7,255.7 1125.9,255.7 C1127.1,255.7 1128.2,243.6 1129.4,241.7 C1130.6,239.8 1131.9,241.0 1132.9,244.1 C1133.9,247.2 1134.2,260.7 1135.2,260.3 C1136.2,259.9 1137.5,243.6 1138.7,241.7 C1139.9,239.8 1140.8,246.8 1142.2,248.7 C1143.6,250.6 1145.4,254.9 1146.9,253.4 C1148.5,251.9 1150.2,244.8 1151.5,239.4 C1152.8,234.0 1154.0,220.0 1155.0,220.8 C1156.0,221.6 1156.3,239.1 1157.3,244.1 C1158.3,249.1 1159.8,249.7 1160.8,251.0 C1161.8,252.3 1162.6,251.8 1163.0,252.0" fill="none" stroke="#ffa500" stroke-width="2.40" stroke-linejoin="round"/><path d="M697.5,247.7 C700.8,247.4 710.1,246.3 717.3,245.8 C724.5,245.3 732.8,244.9 740.5,244.7 C748.2,244.5 756.8,244.6 763.8,244.7 C770.8,244.8 778.0,245.1 782.4,245.3 C786.8,245.5 786.4,245.8 790.0,246.0 C793.6,246.2 799.4,246.2 804.0,246.5 C808.6,246.8 813.6,247.1 817.9,247.7 C822.1,248.3 826.4,249.3 829.5,250.0 C832.6,250.7 834.2,252.0 836.5,251.6 C838.8,251.2 840.8,249.7 843.5,247.7 C846.2,245.7 849.7,242.0 852.8,239.5 C855.9,237.0 859.2,234.2 862.1,232.6 C865.0,231.0 867.9,230.0 870.2,230.2 C872.5,230.4 874.4,232.1 876.0,233.7 C877.6,235.3 878.5,239.7 880.0,240.0 C881.5,240.3 882.8,238.6 884.7,235.3 C886.6,232.0 889.3,224.4 891.6,220.2 C893.9,215.9 896.7,211.8 898.6,209.8 C900.5,207.8 901.8,207.7 903.3,208.1 C904.8,208.5 906.3,209.1 907.9,212.1 C909.5,215.1 911.5,224.3 912.6,226.0 C913.7,227.7 913.7,226.1 914.5,222.0 C915.3,217.9 915.7,209.5 917.2,201.6 C918.7,193.7 921.3,182.4 923.5,174.4 C925.7,166.4 928.5,158.1 930.5,153.5 C932.5,148.9 933.4,149.3 935.6,146.8 C937.9,144.3 941.5,140.3 944.0,138.5 C946.5,136.7 949.1,136.2 950.9,135.7 C952.7,135.2 953.8,135.5 955.0,135.6 C956.2,135.7 956.7,135.8 958.0,136.3 C959.3,136.8 961.3,137.3 962.9,138.7 C964.5,140.0 966.2,141.6 967.8,144.4 C969.4,147.2 971.4,152.3 972.7,155.8 C974.1,159.3 974.8,162.1 975.9,165.6 C977.0,169.1 978.2,173.2 979.2,177.0 C980.2,180.8 980.9,184.7 981.6,188.4 C982.4,192.1 982.7,196.2 983.7,199.3 C984.7,202.4 986.1,204.5 987.4,207.0 C988.6,209.5 990.0,211.8 991.2,214.2 C992.5,216.6 993.7,219.4 994.9,221.6 C996.1,223.8 997.4,226.0 998.6,227.2 C999.8,228.4 1001.1,229.0 1002.3,229.0 C1003.5,229.0 1004.8,226.6 1006.0,227.2 C1007.2,227.8 1008.5,230.6 1009.8,232.8 C1011.0,235.0 1012.3,239.9 1013.5,240.2 C1014.7,240.5 1015.7,237.0 1017.2,234.7 C1018.8,232.4 1020.9,228.0 1022.8,226.3 C1024.7,224.6 1026.5,224.1 1028.4,224.4 C1030.3,224.7 1032.5,226.4 1034.0,228.1 C1035.5,229.8 1036.5,231.8 1037.7,234.7 C1038.9,237.6 1040.3,242.6 1041.4,245.8 C1042.5,249.1 1043.3,253.6 1044.2,254.2 C1045.1,254.8 1045.9,251.1 1047.0,249.5 C1048.1,247.9 1049.6,245.8 1050.7,244.9 C1051.8,244.0 1052.6,246.9 1053.5,244.0 C1054.4,241.1 1055.5,233.1 1056.3,227.2 C1057.1,221.3 1057.5,212.9 1058.1,208.6 C1058.7,204.3 1059.0,204.2 1060.0,201.2 C1061.0,198.2 1062.6,192.6 1064.0,190.6 C1065.4,188.6 1067.0,188.2 1068.6,189.4 C1070.1,190.6 1071.9,192.8 1073.3,197.6 C1074.7,202.4 1075.5,211.2 1076.7,218.5 C1077.9,225.8 1078.8,236.5 1080.2,241.7 C1081.6,246.9 1083.4,248.5 1084.9,249.9 C1086.5,251.3 1088.2,252.0 1089.5,249.9 C1090.8,247.8 1091.8,239.2 1093.0,237.1 C1094.2,235.0 1095.1,235.5 1096.5,237.1 C1097.9,238.7 1099.8,243.1 1101.2,246.4 C1102.6,249.7 1103.5,256.9 1104.7,256.9 C1105.9,256.9 1107.3,252.0 1108.5,246.4 C1109.7,240.8 1110.7,232.4 1112.0,223.1 C1113.3,213.8 1115.2,197.8 1116.6,190.6 C1117.9,183.4 1118.9,179.7 1120.1,180.1 C1121.3,180.5 1122.4,185.3 1123.6,192.9 C1124.8,200.5 1125.9,216.6 1127.1,225.5 C1128.3,234.4 1129.2,243.3 1130.6,246.4 C1131.9,249.5 1133.8,246.8 1135.2,244.1 C1136.6,241.4 1137.5,230.9 1138.7,230.1 C1139.9,229.3 1140.8,235.5 1142.2,239.4 C1143.6,243.3 1145.7,256.1 1146.9,253.4 C1148.1,250.7 1148.4,234.7 1149.2,223.1 C1150.0,211.5 1150.7,191.7 1151.5,183.6 C1152.3,175.5 1153.0,173.5 1153.8,174.3 C1154.6,175.1 1155.4,178.2 1156.2,188.3 C1157.0,198.4 1157.7,224.0 1158.5,234.8 C1159.3,245.7 1160.0,249.5 1160.8,253.4 C1161.5,257.3 1162.6,257.2 1163.0,258.0" fill="none" stroke="#c44e52" stroke-width="2.40" stroke-linejoin="round"/><path d="M697.5,216.3 C700.8,216.1 710.1,215.2 717.3,215.1 C724.5,215.0 732.8,215.1 740.5,215.6 C748.2,216.1 756.8,217.0 763.8,217.9 C770.8,218.8 778.0,220.2 782.4,220.9 C786.8,221.6 786.4,221.0 790.0,222.1 C793.6,223.2 799.4,225.5 804.0,227.4 C808.6,229.3 813.6,231.3 817.9,233.7 C822.1,236.1 826.0,238.2 829.5,241.9 C833.0,245.6 836.1,251.0 838.8,255.8 C841.5,260.6 843.8,270.5 845.8,270.9 C847.8,271.3 848.6,262.9 850.5,258.1 C852.4,253.3 855.1,246.4 857.4,241.9 C859.7,237.4 861.9,233.9 864.4,231.4 C866.9,228.9 870.3,226.9 872.6,226.7 C874.9,226.5 876.7,227.7 878.4,230.2 C880.1,232.7 881.6,236.6 883.0,241.9 C884.4,247.2 886.0,261.8 887.0,262.1 C888.0,262.4 888.1,250.5 889.3,243.5 C890.5,236.5 892.2,226.6 894.0,220.2 C895.8,213.8 897.9,208.4 899.8,205.1 C901.7,201.8 903.7,200.3 905.6,200.5 C907.5,200.7 909.9,202.6 911.4,206.3 C912.9,210.0 914.1,215.2 914.9,222.6 C915.7,230.0 915.4,250.1 916.0,250.5 C916.6,250.9 917.6,233.4 918.4,224.9 C919.2,216.4 919.5,208.1 920.7,199.3 C921.9,190.5 924.2,179.2 925.8,172.1 C927.3,165.0 928.4,161.0 930.0,156.6 C931.6,152.2 933.7,148.7 935.6,145.4 C937.5,142.2 939.1,139.4 941.2,137.1 C943.3,134.8 946.1,132.8 948.1,131.5 C950.1,130.2 951.4,129.6 953.0,129.0 C954.6,128.4 956.5,128.1 958.0,128.1 C959.5,128.1 960.9,128.8 962.0,129.2 C963.1,129.6 963.3,129.7 964.5,130.6 C965.7,131.5 967.8,132.7 969.4,134.7 C971.0,136.7 972.9,140.1 974.3,142.8 C975.6,145.5 976.4,147.7 977.5,150.9 C978.6,154.2 979.8,158.5 980.8,162.3 C981.8,166.1 982.5,169.9 983.2,173.7 C983.9,177.5 984.5,178.2 984.9,185.1 C985.3,192.0 985.7,204.0 985.9,215.0 C986.1,226.0 986.1,251.3 986.3,251.3 C986.5,251.3 986.8,224.2 987.2,215.0 C987.6,205.8 987.9,199.5 988.5,196.0 C989.1,192.5 989.8,193.3 990.8,193.9 C991.8,194.5 993.8,196.3 994.8,199.8 C995.8,203.3 996.3,209.1 996.8,215.0 C997.3,220.9 997.5,228.3 997.8,235.0 C998.1,241.7 998.5,255.7 998.8,255.2 C999.1,254.7 999.4,238.0 999.8,232.0 C1000.2,226.0 1000.5,221.9 1001.0,219.0 C1001.5,216.1 1002.1,215.3 1002.7,214.7 C1003.3,214.1 1004.0,213.5 1004.7,215.6 C1005.4,217.7 1006.0,220.2 1006.7,227.5 C1007.4,234.8 1008.1,257.8 1008.7,259.2 C1009.3,260.6 1009.9,241.0 1010.5,236.0 C1011.1,231.0 1011.9,229.6 1012.6,229.1 C1013.3,228.6 1014.0,231.4 1014.8,233.0 C1015.6,234.6 1016.3,239.1 1017.2,238.4 C1018.1,237.8 1018.9,231.3 1020.0,229.1 C1021.1,226.9 1022.3,225.8 1023.7,225.3 C1025.1,224.8 1026.9,225.1 1028.4,226.3 C1030.0,227.6 1031.5,230.2 1033.0,232.8 C1034.5,235.4 1036.3,239.0 1037.7,242.1 C1039.1,245.2 1040.3,248.9 1041.4,251.4 C1042.5,253.9 1043.1,255.9 1044.2,257.0 C1045.3,258.1 1046.7,259.1 1047.9,257.9 C1049.1,256.6 1050.5,250.6 1051.6,249.5 C1052.7,248.4 1053.5,250.6 1054.4,251.4 C1055.3,252.2 1056.2,255.4 1057.2,254.2 C1058.2,253.0 1059.4,248.5 1060.5,244.1 C1061.6,239.7 1062.7,232.1 1064.0,227.8 C1065.3,223.5 1067.0,218.1 1068.6,218.5 C1070.1,218.9 1071.8,226.2 1073.3,230.1 C1074.8,234.0 1076.6,238.6 1077.9,241.7 C1079.2,244.8 1080.1,247.1 1081.4,248.7 C1082.8,250.2 1084.8,251.8 1086.0,251.0 C1087.2,250.2 1087.4,250.7 1088.4,244.1 C1089.4,237.5 1090.6,220.8 1091.9,211.5 C1093.2,202.2 1095.0,189.9 1096.5,188.3 C1098.0,186.8 1099.8,194.4 1101.2,202.2 C1102.6,209.9 1103.3,227.8 1104.7,234.8 C1106.1,241.8 1108.1,245.3 1109.7,244.1 C1111.3,242.9 1112.8,232.9 1114.3,227.8 C1115.8,222.8 1117.5,213.8 1119.0,213.8 C1120.5,213.8 1122.2,222.8 1123.6,227.8 C1124.9,232.9 1125.9,240.4 1127.1,244.1 C1128.3,247.8 1129.2,250.7 1130.6,249.9 C1131.9,249.1 1133.7,240.4 1135.2,239.4 C1136.8,238.4 1138.4,242.2 1139.9,244.1 C1141.5,246.0 1143.0,252.6 1144.5,251.0 C1146.0,249.4 1148.0,241.4 1149.2,234.8 C1150.4,228.2 1150.7,217.5 1151.5,211.5 C1152.3,205.5 1153.0,197.9 1153.8,198.7 C1154.6,199.5 1155.4,208.6 1156.2,216.2 C1157.0,223.8 1157.7,238.7 1158.5,244.1 C1159.3,249.5 1160.0,247.7 1160.8,248.7 C1161.5,249.7 1162.6,249.8 1163.0,250.0" fill="none" stroke="#4c72b0" stroke-width="2.40" stroke-linejoin="round"/><g transform="translate(606,0)"><path d="M91.5,193.4 C94.3,192.9 102.1,191.3 108.3,190.2 C114.5,189.1 121.8,187.9 128.6,186.8 C135.4,185.7 143.7,184.4 148.9,183.8 C154.1,183.2 156.4,183.3 160.0,183.1 C163.6,182.9 167.0,182.5 170.5,182.4 C174.0,182.3 177.5,182.5 181.0,182.6 C184.5,182.7 187.9,182.7 191.4,182.9 C194.9,183.1 198.9,183.9 201.8,184.0 C204.7,184.1 206.5,184.0 208.8,183.6 C211.1,183.2 213.5,182.5 215.8,181.5 C218.1,180.5 220.5,178.9 222.8,177.7 C225.1,176.5 227.4,175.4 229.7,174.2 C232.0,173.0 234.5,171.8 236.7,170.7 C238.9,169.6 240.7,168.4 243.1,167.5 C245.5,166.6 248.6,165.7 251.3,165.1 C254.0,164.5 256.7,164.0 259.4,164.0 C262.1,164.0 264.8,164.2 267.5,165.1 C270.2,165.9 273.3,167.8 275.7,169.1 C278.1,170.3 280.2,171.8 282.0,172.6 C283.8,173.4 285.1,173.7 286.7,174.2 C288.2,174.7 289.8,175.4 291.3,175.6 C292.9,175.8 294.4,175.8 296.0,175.6 C297.6,175.4 299.1,175.2 300.6,174.7 C302.2,174.1 303.8,173.2 305.3,172.3 C306.9,171.4 308.3,170.3 309.9,169.5 C311.4,168.7 313.1,167.7 314.6,167.2 C316.2,166.7 318.1,167.2 319.2,166.7 C320.3,166.2 320.6,165.0 321.1,164.0 C321.7,163.0 321.8,162.9 322.5,160.8 C323.2,158.7 324.4,154.4 325.3,151.4 C326.2,148.4 327.1,145.6 328.0,143.0 C328.9,140.4 329.9,138.0 330.8,135.6 C331.8,133.2 332.5,131.0 333.7,128.7 C334.9,126.4 336.7,123.3 337.9,121.7 C339.1,120.1 339.9,119.8 341.0,119.2 C342.1,118.6 342.8,118.0 344.2,118.2 C345.6,118.4 347.6,118.5 349.1,120.3 C350.6,122.0 351.9,125.4 353.2,128.7 C354.5,132.0 355.6,136.4 356.7,139.9 C357.8,143.4 358.7,147.3 359.5,149.6 C360.3,151.9 361.1,153.5 361.6,153.8 C362.2,154.1 361.9,151.4 362.8,151.2 C363.7,151.0 365.4,151.8 367.0,152.6 C368.6,153.4 370.9,154.7 372.6,156.0 C374.3,157.3 375.9,159.1 377.4,160.2 C378.9,161.2 380.2,162.5 381.6,162.3 C383.0,162.1 384.3,160.2 385.8,158.8 C387.3,157.4 389.3,154.4 390.7,153.9 C392.1,153.4 393.1,154.4 394.2,156.0 C395.2,157.6 396.1,160.9 397.0,163.7 C397.9,166.5 398.9,171.2 399.7,172.8 C400.5,174.4 400.9,174.0 401.8,173.5 C402.7,173.0 404.2,170.3 405.3,170.0 C406.4,169.7 407.1,170.2 408.1,171.4 C409.2,172.6 410.4,175.5 411.6,177.0 C412.8,178.5 413.9,180.3 415.1,180.4 C416.3,180.5 417.7,178.1 418.6,177.7 C419.6,177.2 419.5,176.5 420.8,177.7 C422.1,178.9 425.2,183.2 426.6,185.0 C428.0,186.8 428.2,189.1 429.4,188.7 C430.6,188.2 432.2,182.0 433.6,182.3 C435.0,182.6 436.7,188.8 437.8,190.6 C438.9,192.4 438.9,191.1 440.0,193.4 C441.1,195.7 442.8,202.1 444.2,204.5 C445.6,206.9 447.1,208.2 448.4,208.0 C449.7,207.8 450.9,204.7 451.9,203.1 C452.9,201.5 453.7,198.4 454.6,198.2 C455.5,198.0 456.6,199.7 457.4,201.7 C458.2,203.7 458.8,207.5 459.5,210.1 C460.2,212.7 460.9,216.4 461.6,217.1 C462.3,217.8 462.9,214.9 463.7,214.3 C464.5,213.7 465.7,213.8 466.5,213.6 C467.3,213.4 467.9,213.9 468.6,212.9 C469.3,211.9 469.9,209.4 470.7,207.3 C471.5,205.2 472.7,201.0 473.5,200.3 C474.3,199.6 474.9,201.0 475.6,203.1 C476.3,205.2 476.9,211.0 477.7,212.9 C478.5,214.8 479.5,213.6 480.4,214.3 C481.3,215.0 482.3,215.5 483.2,217.1 C484.1,218.7 485.1,222.2 486.0,224.1 C486.9,225.9 488.0,225.9 488.8,228.2 C489.6,230.5 490.1,237.8 490.9,238.0 C491.7,238.2 492.8,230.6 493.7,229.6 C494.6,228.6 495.1,233.1 496.0,231.8 C496.9,230.6 497.9,224.7 498.8,222.1 C499.7,219.5 500.7,217.8 501.6,216.5 C502.5,215.2 503.1,213.5 504.0,214.4 C504.9,215.3 506.0,219.4 507.0,222.0 C508.0,224.6 509.0,228.6 510.0,230.2 C511.0,231.8 512.1,230.8 513.0,231.7 C513.9,232.6 514.5,236.8 515.3,235.5 C516.1,234.2 516.7,226.2 517.6,224.2 C518.5,222.2 519.7,223.4 520.6,223.4 C521.5,223.4 522.2,221.5 523.0,224.2 C523.8,226.8 524.5,236.0 525.1,239.3 C525.7,242.6 526.1,244.6 526.7,243.8 C527.3,243.0 528.1,236.5 528.9,234.7 C529.6,232.9 530.4,234.1 531.2,233.2 C532.0,232.3 532.9,228.7 533.5,229.5 C534.1,230.3 534.5,236.7 535.0,237.8 C535.5,238.9 535.9,235.7 536.5,236.3 C537.1,236.9 538.0,240.0 538.7,241.5 C539.5,243.0 540.2,244.9 541.0,245.3 C541.8,245.7 542.5,243.6 543.3,243.8 C544.0,244.1 544.8,246.8 545.5,246.8 C546.2,246.8 547.0,245.1 547.8,243.8 C548.6,242.6 549.4,239.4 550.1,239.3 C550.9,239.2 551.7,240.6 552.3,243.1 C552.9,245.6 553.2,251.2 553.8,254.4 C554.4,257.6 555.6,260.7 556.0,262.0" fill="none" stroke="#111111" stroke-width="2.40" stroke-linejoin="round"/></g></g>
<rect x="91.0" y="9.3" width="465.0" height="302.0" fill="none" stroke="#cccccc" stroke-width="1.5"/>
<rect x="697.0" y="9.3" width="465.0" height="302.0" fill="none" stroke="#cccccc" stroke-width="1.5"/>
<line x1="103.6" y1="27.5" x2="131.1" y2="27.5" stroke="#64b5cd" stroke-width="2.40" stroke-dasharray="10.1,4.3"/><text transform="translate(142.3,32.2) scale(1.100,1)" class="lg">plain cylinder (Murakami <tspan>et al.</tspan><tspan font-style="normal"> 1999</tspan>)</text><line x1="103.6" y1="47.1" x2="131.1" y2="47.1" stroke="#55a868" stroke-width="2.40" stroke-linecap="round"/><text transform="translate(142.3,51.8) scale(0.940,1)" class="lg">R0</text><line x1="103.6" y1="66.8" x2="131.1" y2="66.8" stroke="#008080" stroke-width="2.40" stroke-linecap="round"/><text transform="translate(142.3,71.5) scale(0.940,1)" class="lg">R1</text><line x1="103.6" y1="86.4" x2="131.1" y2="86.4" stroke="#ffa500" stroke-width="2.40" stroke-linecap="round"/><text transform="translate(142.3,91.1) scale(0.940,1)" class="lg">R2</text><line x1="103.6" y1="106.0" x2="131.1" y2="106.0" stroke="#c44e52" stroke-width="2.40" stroke-linecap="round"/><text transform="translate(142.3,110.7) scale(0.940,1)" class="lg">R3</text><line x1="103.6" y1="125.6" x2="131.1" y2="125.6" stroke="#4c72b0" stroke-width="2.40" stroke-linecap="round"/><text transform="translate(142.3,130.3) scale(0.940,1)" class="lg">R4</text><line x1="103.6" y1="145.3" x2="131.1" y2="145.3" stroke="#111111" stroke-width="2.40" stroke-linecap="round"/><text transform="translate(142.3,150.0) scale(1.070,1)" class="lg">plain</text>
<line x1="709.6" y1="27.5" x2="737.1" y2="27.5" stroke="#64b5cd" stroke-width="2.40" stroke-dasharray="10.1,4.3"/><text transform="translate(748.3,32.2) scale(1.100,1)" class="lg">plain cylinder (Murakami <tspan>et al.</tspan><tspan font-style="normal"> 1999</tspan>)</text><line x1="709.6" y1="47.1" x2="737.1" y2="47.1" stroke="#008080" stroke-width="2.40" stroke-linecap="round"/><text transform="translate(748.3,51.8) scale(0.940,1)" class="lg">R5</text><line x1="709.6" y1="66.8" x2="737.1" y2="66.8" stroke="#ffa500" stroke-width="2.40" stroke-linecap="round"/><text transform="translate(748.3,71.5) scale(0.940,1)" class="lg">R6</text><line x1="709.6" y1="86.4" x2="737.1" y2="86.4" stroke="#c44e52" stroke-width="2.40" stroke-linecap="round"/><text transform="translate(748.3,91.1) scale(0.940,1)" class="lg">R7</text><line x1="709.6" y1="106.0" x2="737.1" y2="106.0" stroke="#4c72b0" stroke-width="2.40" stroke-linecap="round"/><text transform="translate(748.3,110.7) scale(0.940,1)" class="lg">R8</text><line x1="709.6" y1="125.6" x2="737.1" y2="125.6" stroke="#111111" stroke-width="2.40" stroke-linecap="round"/><text transform="translate(748.3,130.3) scale(1.070,1)" class="lg">plain</text>
<text x="76.8" y="61.9" class="tk" text-anchor="end">10<tspan class="sup" dy="-12.5">4</tspan></text>
<text x="76.8" y="126.7" class="tk" text-anchor="end">10<tspan class="sup" dy="-12.5">1</tspan></text>
<text x="76.8" y="191.4" class="tk" text-anchor="end">10<tspan class="sup" dy="-12.5">−2</tspan></text>
<text x="76.8" y="256.1" class="tk" text-anchor="end">10<tspan class="sup" dy="-12.5">−5</tspan></text>
<text x="76.8" y="320.8" class="tk" text-anchor="end">10<tspan class="sup" dy="-12.5">−8</tspan></text>
<text x="91.0" y="343.7" class="tk" text-anchor="middle">10<tspan class="sup" dy="-12.5">−2</tspan></text>
<text x="323.5" y="343.7" class="tk" text-anchor="middle">10<tspan class="sup" dy="-12.5">−1</tspan></text>
<text x="556.0" y="343.7" class="tk" text-anchor="middle">10<tspan class="sup" dy="-12.5">0</tspan></text>
<text transform="translate(323.5,365.8) scale(1.15,1)" class="al" text-anchor="middle">f<tspan class="sub" dy="3.5">s</tspan><tspan dy="-3.5">W/U</tspan></text>
<text transform="translate(28.4,160) rotate(-90) scale(1.2,1.05)" class="al" text-anchor="middle">f<tspan class="sub" dy="3.5">s</tspan><tspan dy="-3.5">S</tspan><tspan class="sub" dy="3.5">f</tspan><tspan class="sub2" dy="2.5">s</tspan></text>
<text transform="translate(295.3,415.3) scale(1,1.09)" class="cap" text-anchor="middle">(<tspan font-weight="bold">a</tspan>)</text>
<text x="682.8" y="61.9" class="tk" text-anchor="end">10<tspan class="sup" dy="-12.5">4</tspan></text>
<text x="682.8" y="126.7" class="tk" text-anchor="end">10<tspan class="sup" dy="-12.5">1</tspan></text>
<text x="682.8" y="191.4" class="tk" text-anchor="end">10<tspan class="sup" dy="-12.5">−2</tspan></text>
<text x="682.8" y="256.1" class="tk" text-anchor="end">10<tspan class="sup" dy="-12.5">−5</tspan></text>
<text x="682.8" y="320.8" class="tk" text-anchor="end">10<tspan class="sup" dy="-12.5">−8</tspan></text>
<text x="697.0" y="343.7" class="tk" text-anchor="middle">10<tspan class="sup" dy="-12.5">−2</tspan></text>
<text x="929.5" y="343.7" class="tk" text-anchor="middle">10<tspan class="sup" dy="-12.5">−1</tspan></text>
<text x="1162.0" y="343.7" class="tk" text-anchor="middle">10<tspan class="sup" dy="-12.5">0</tspan></text>
<text transform="translate(929.5,365.8) scale(1.15,1)" class="al" text-anchor="middle">f<tspan class="sub" dy="3.5">s</tspan><tspan dy="-3.5">W/U</tspan></text>
<text transform="translate(634.4,160) rotate(-90) scale(1.2,1.05)" class="al" text-anchor="middle">f<tspan class="sub" dy="3.5">s</tspan><tspan dy="-3.5">S</tspan><tspan class="sub" dy="3.5">f</tspan><tspan class="sub2" dy="2.5">s</tspan></text>
<text transform="translate(901.3,415.3) scale(1,1.09)" class="cap" text-anchor="middle">(<tspan font-weight="bold">b</tspan>)</text>
</svg>
</body></html>
